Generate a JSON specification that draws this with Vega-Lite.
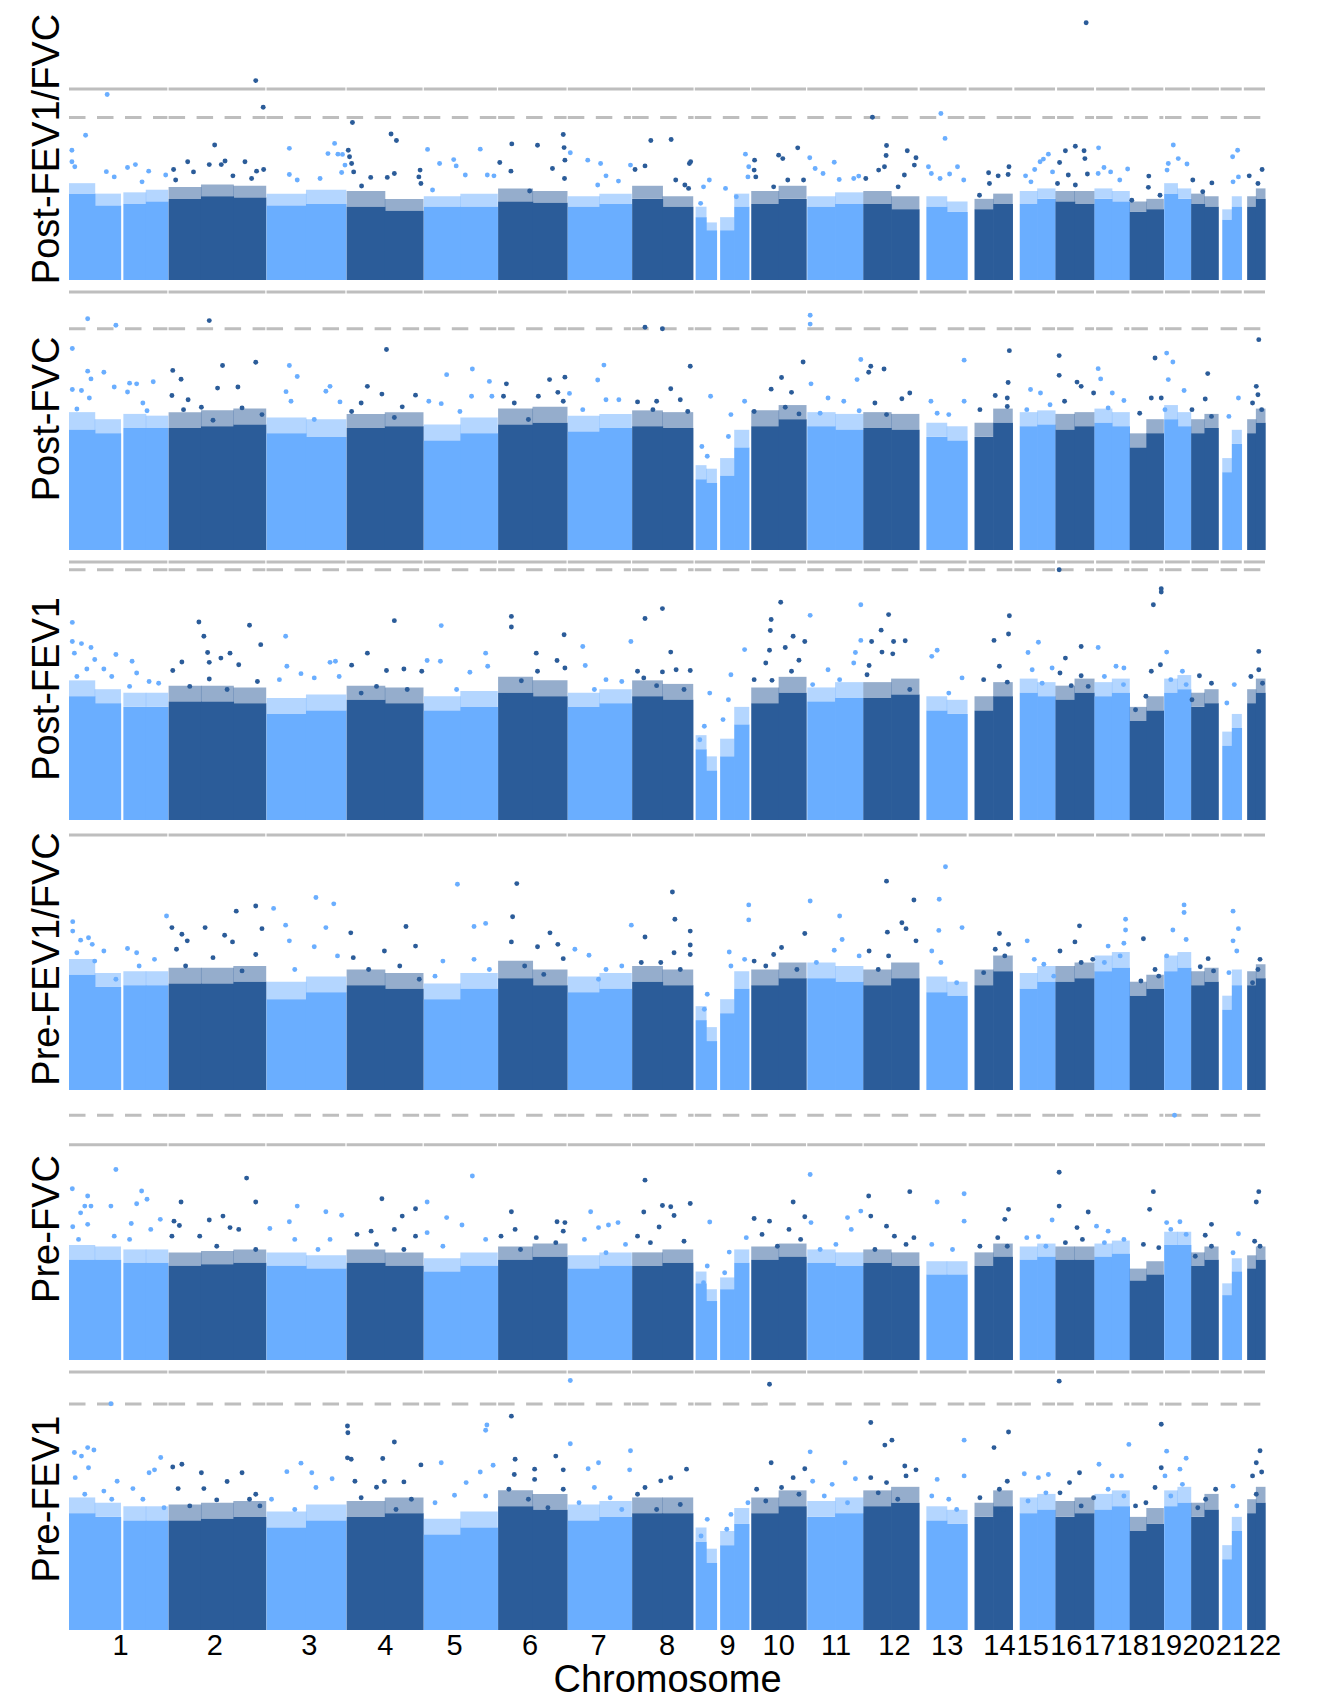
{
"$schema":"https://vega.github.io/schema/vega-lite/v6.json",
"background":"white",
"padding":{"left":27,"top":13,"right":10,"bottom":5},
"bounds":"flush",
"spacing":7,
"config":{"view":{"stroke":null},"font":"Liberation Sans",
"axisY":{"labels":false,"ticks":false,"domain":false,"grid":false,"titleFontSize":38,"titleFontWeight":"normal","titleColor":"#000000","titlePadding":3,"titleLimit":2000},
"axisX":{"grid":false,"domain":false,"ticks":false,"tickSize":0,"labelFontSize":29,"labelColor":"#000000","labelPadding":1,"labelOverlap":false,"labelFlush":false,"labelBound":false,"titleFontSize":38,"titleFontWeight":"normal","titleColor":"#000000","titlePadding":1}},
"datasets":{
"chrom":[{"c":1,"s":0,"e":237},{"c":2,"s":240,"e":473},{"c":3,"s":476,"e":666},{"c":4,"s":669,"e":852},{"c":5,"s":855,"e":1031},{"c":6,"s":1034,"e":1199},{"c":7,"s":1202,"e":1354},{"c":8,"s":1357,"e":1505},{"c":9,"s":1508,"e":1641},{"c":10,"s":1644,"e":1776},{"c":11,"s":1779,"e":1912},{"c":12,"s":1915,"e":2045},{"c":13,"s":2050,"e":2163},{"c":14,"s":2168,"e":2273},{"c":15,"s":2278,"e":2376},{"c":16,"s":2381,"e":2470},{"c":17,"s":2475,"e":2555},{"c":18,"s":2560,"e":2637},{"c":19,"s":2641,"e":2701},{"c":20,"s":2705,"e":2771},{"c":21,"s":2775,"e":2826},{"c":22,"s":2831,"e":2882}],
"body":[
{"p":1,"c":1,"s":0,"e":62,"h":3.3,"f":3.7},{"p":1,"c":1,"s":62,"e":124,"h":2.85,"f":3.3},{"p":1,"c":1,"s":131,"e":185,"h":2.9,"f":3.35},{"p":1,"c":1,"s":185,"e":238,"h":3.0,"f":3.45},{"p":1,"c":2,"s":240,"e":318,"h":3.1,"f":3.55},{"p":1,"c":2,"s":318,"e":396,"h":3.2,"f":3.65},{"p":1,"c":2,"s":396,"e":474,"h":3.15,"f":3.6},{"p":1,"c":3,"s":476,"e":571,"h":2.85,"f":3.3},{"p":1,"c":3,"s":571,"e":667,"h":2.9,"f":3.45},{"p":1,"c":4,"s":669,"e":761,"h":2.8,"f":3.4},{"p":1,"c":4,"s":761,"e":853,"h":2.65,"f":3.1},{"p":1,"c":5,"s":855,"e":943,"h":2.8,"f":3.2},{"p":1,"c":5,"s":943,"e":1032,"h":2.8,"f":3.3},{"p":1,"c":6,"s":1034,"e":1117,"h":3.0,"f":3.5},{"p":1,"c":6,"s":1117,"e":1200,"h":2.95,"f":3.4},{"p":1,"c":7,"s":1202,"e":1278,"h":2.8,"f":3.2},{"p":1,"c":7,"s":1278,"e":1355,"h":2.9,"f":3.3},{"p":1,"c":8,"s":1357,"e":1430,"h":3.1,"f":3.6},{"p":1,"c":8,"s":1430,"e":1503,"h":2.8,"f":3.2},{"p":1,"c":9,"s":1510,"e":1535,"h":2.4,"f":2.8},{"p":1,"c":9,"s":1535,"e":1560,"h":1.9,"f":2.2},{"p":1,"c":9,"s":1569,"e":1603,"h":1.9,"f":2.4},{"p":1,"c":9,"s":1603,"e":1638,"h":2.8,"f":3.3},{"p":1,"c":10,"s":1644,"e":1710,"h":2.9,"f":3.4},{"p":1,"c":10,"s":1710,"e":1776,"h":3.1,"f":3.6},{"p":1,"c":11,"s":1779,"e":1846,"h":2.8,"f":3.2},{"p":1,"c":11,"s":1846,"e":1913,"h":2.9,"f":3.35},{"p":1,"c":12,"s":1914,"e":1981,"h":2.9,"f":3.4},{"p":1,"c":12,"s":1981,"e":2048,"h":2.7,"f":3.2},{"p":1,"c":13,"s":2066,"e":2115,"h":2.8,"f":3.2},{"p":1,"c":13,"s":2115,"e":2164,"h":2.6,"f":3.0},{"p":1,"c":14,"s":2182,"e":2227,"h":2.7,"f":3.1},{"p":1,"c":14,"s":2227,"e":2273,"h":2.9,"f":3.3},{"p":1,"c":15,"s":2291,"e":2333,"h":2.9,"f":3.4},{"p":1,"c":15,"s":2333,"e":2376,"h":3.1,"f":3.5},{"p":1,"c":16,"s":2377,"e":2423,"h":3.0,"f":3.4},{"p":1,"c":16,"s":2423,"e":2470,"h":2.9,"f":3.4},{"p":1,"c":17,"s":2471,"e":2513,"h":3.1,"f":3.5},{"p":1,"c":17,"s":2513,"e":2555,"h":3.0,"f":3.4},{"p":1,"c":18,"s":2556,"e":2596,"h":2.6,"f":3.0},{"p":1,"c":18,"s":2596,"e":2637,"h":2.7,"f":3.1},{"p":1,"c":19,"s":2639,"e":2671,"h":3.3,"f":3.7},{"p":1,"c":19,"s":2671,"e":2703,"h":3.1,"f":3.5},{"p":1,"c":20,"s":2704,"e":2736,"h":2.9,"f":3.3},{"p":1,"c":20,"s":2736,"e":2769,"h":2.8,"f":3.2},{"p":1,"c":21,"s":2779,"e":2802,"h":2.3,"f":2.7},{"p":1,"c":21,"s":2802,"e":2825,"h":2.8,"f":3.2},{"p":1,"c":22,"s":2839,"e":2860,"h":2.8,"f":3.2},{"p":1,"c":22,"s":2860,"e":2882,"h":3.1,"f":3.5},
{"p":2,"c":1,"s":0,"e":62,"h":3.4,"f":3.9},{"p":2,"c":1,"s":62,"e":124,"h":3.3,"f":3.7},{"p":2,"c":1,"s":131,"e":185,"h":3.45,"f":3.85},{"p":2,"c":1,"s":185,"e":238,"h":3.45,"f":3.8},{"p":2,"c":2,"s":240,"e":318,"h":3.45,"f":3.9},{"p":2,"c":2,"s":318,"e":396,"h":3.5,"f":3.95},{"p":2,"c":2,"s":396,"e":474,"h":3.55,"f":4.0},{"p":2,"c":3,"s":476,"e":571,"h":3.3,"f":3.75},{"p":2,"c":3,"s":571,"e":667,"h":3.2,"f":3.7},{"p":2,"c":4,"s":669,"e":761,"h":3.45,"f":3.85},{"p":2,"c":4,"s":761,"e":853,"h":3.5,"f":3.9},{"p":2,"c":5,"s":855,"e":943,"h":3.1,"f":3.55},{"p":2,"c":5,"s":943,"e":1032,"h":3.3,"f":3.75},{"p":2,"c":6,"s":1034,"e":1117,"h":3.55,"f":4.0},{"p":2,"c":6,"s":1117,"e":1200,"h":3.6,"f":4.05},{"p":2,"c":7,"s":1202,"e":1278,"h":3.35,"f":3.8},{"p":2,"c":7,"s":1278,"e":1355,"h":3.45,"f":3.85},{"p":2,"c":8,"s":1357,"e":1430,"h":3.5,"f":3.95},{"p":2,"c":8,"s":1430,"e":1503,"h":3.45,"f":3.9},{"p":2,"c":9,"s":1510,"e":1535,"h":2.0,"f":2.4},{"p":2,"c":9,"s":1535,"e":1560,"h":1.9,"f":2.3},{"p":2,"c":9,"s":1569,"e":1603,"h":2.1,"f":2.6},{"p":2,"c":9,"s":1603,"e":1638,"h":2.9,"f":3.4},{"p":2,"c":10,"s":1644,"e":1710,"h":3.5,"f":3.95},{"p":2,"c":10,"s":1710,"e":1776,"h":3.7,"f":4.1},{"p":2,"c":11,"s":1779,"e":1846,"h":3.5,"f":3.9},{"p":2,"c":11,"s":1846,"e":1913,"h":3.4,"f":3.85},{"p":2,"c":12,"s":1914,"e":1981,"h":3.45,"f":3.9},{"p":2,"c":12,"s":1981,"e":2048,"h":3.4,"f":3.85},{"p":2,"c":13,"s":2066,"e":2115,"h":3.2,"f":3.6},{"p":2,"c":13,"s":2115,"e":2164,"h":3.1,"f":3.5},{"p":2,"c":14,"s":2182,"e":2227,"h":3.2,"f":3.6},{"p":2,"c":14,"s":2227,"e":2273,"h":3.6,"f":4.0},{"p":2,"c":15,"s":2291,"e":2333,"h":3.5,"f":3.9},{"p":2,"c":15,"s":2333,"e":2376,"h":3.55,"f":3.95},{"p":2,"c":16,"s":2377,"e":2423,"h":3.4,"f":3.85},{"p":2,"c":16,"s":2423,"e":2470,"h":3.5,"f":3.9},{"p":2,"c":17,"s":2471,"e":2513,"h":3.6,"f":4.0},{"p":2,"c":17,"s":2513,"e":2555,"h":3.5,"f":3.9},{"p":2,"c":18,"s":2556,"e":2596,"h":2.9,"f":3.3},{"p":2,"c":18,"s":2596,"e":2637,"h":3.3,"f":3.7},{"p":2,"c":19,"s":2639,"e":2671,"h":3.7,"f":4.1},{"p":2,"c":19,"s":2671,"e":2703,"h":3.5,"f":3.9},{"p":2,"c":20,"s":2704,"e":2736,"h":3.3,"f":3.7},{"p":2,"c":20,"s":2736,"e":2769,"h":3.45,"f":3.85},{"p":2,"c":21,"s":2779,"e":2802,"h":2.2,"f":2.6},{"p":2,"c":21,"s":2802,"e":2825,"h":3.0,"f":3.4},{"p":2,"c":22,"s":2839,"e":2860,"h":3.3,"f":3.7},{"p":2,"c":22,"s":2860,"e":2882,"h":3.6,"f":4.0},
{"p":3,"c":1,"s":0,"e":62,"h":3.5,"f":3.95},{"p":3,"c":1,"s":62,"e":124,"h":3.3,"f":3.7},{"p":3,"c":1,"s":131,"e":185,"h":3.2,"f":3.6},{"p":3,"c":1,"s":185,"e":238,"h":3.2,"f":3.6},{"p":3,"c":2,"s":240,"e":318,"h":3.35,"f":3.8},{"p":3,"c":2,"s":318,"e":396,"h":3.35,"f":3.8},{"p":3,"c":2,"s":396,"e":474,"h":3.3,"f":3.75},{"p":3,"c":3,"s":476,"e":571,"h":3.0,"f":3.45},{"p":3,"c":3,"s":571,"e":667,"h":3.1,"f":3.55},{"p":3,"c":4,"s":669,"e":761,"h":3.4,"f":3.8},{"p":3,"c":4,"s":761,"e":853,"h":3.3,"f":3.75},{"p":3,"c":5,"s":855,"e":943,"h":3.1,"f":3.5},{"p":3,"c":5,"s":943,"e":1032,"h":3.2,"f":3.65},{"p":3,"c":6,"s":1034,"e":1117,"h":3.6,"f":4.05},{"p":3,"c":6,"s":1117,"e":1200,"h":3.5,"f":3.95},{"p":3,"c":7,"s":1202,"e":1278,"h":3.2,"f":3.6},{"p":3,"c":7,"s":1278,"e":1355,"h":3.3,"f":3.7},{"p":3,"c":8,"s":1357,"e":1430,"h":3.5,"f":3.95},{"p":3,"c":8,"s":1430,"e":1503,"h":3.4,"f":3.85},{"p":3,"c":9,"s":1510,"e":1535,"h":2.0,"f":2.4},{"p":3,"c":9,"s":1535,"e":1560,"h":1.4,"f":1.8},{"p":3,"c":9,"s":1569,"e":1603,"h":1.8,"f":2.3},{"p":3,"c":9,"s":1603,"e":1638,"h":2.7,"f":3.2},{"p":3,"c":10,"s":1644,"e":1710,"h":3.3,"f":3.75},{"p":3,"c":10,"s":1710,"e":1776,"h":3.6,"f":4.05},{"p":3,"c":11,"s":1779,"e":1846,"h":3.35,"f":3.75},{"p":3,"c":11,"s":1846,"e":1913,"h":3.45,"f":3.9},{"p":3,"c":12,"s":1914,"e":1981,"h":3.45,"f":3.9},{"p":3,"c":12,"s":1981,"e":2048,"h":3.55,"f":4.0},{"p":3,"c":13,"s":2066,"e":2115,"h":3.1,"f":3.5},{"p":3,"c":13,"s":2115,"e":2164,"h":3.0,"f":3.4},{"p":3,"c":14,"s":2182,"e":2227,"h":3.1,"f":3.5},{"p":3,"c":14,"s":2227,"e":2273,"h":3.5,"f":3.9},{"p":3,"c":15,"s":2291,"e":2333,"h":3.6,"f":4.0},{"p":3,"c":15,"s":2333,"e":2376,"h":3.5,"f":3.9},{"p":3,"c":16,"s":2377,"e":2423,"h":3.4,"f":3.8},{"p":3,"c":16,"s":2423,"e":2470,"h":3.6,"f":4.0},{"p":3,"c":17,"s":2471,"e":2513,"h":3.5,"f":3.9},{"p":3,"c":17,"s":2513,"e":2555,"h":3.6,"f":4.0},{"p":3,"c":18,"s":2556,"e":2596,"h":2.8,"f":3.2},{"p":3,"c":18,"s":2596,"e":2637,"h":3.1,"f":3.5},{"p":3,"c":19,"s":2639,"e":2671,"h":3.6,"f":4.0},{"p":3,"c":19,"s":2671,"e":2703,"h":3.7,"f":4.1},{"p":3,"c":20,"s":2704,"e":2736,"h":3.2,"f":3.6},{"p":3,"c":20,"s":2736,"e":2769,"h":3.3,"f":3.7},{"p":3,"c":21,"s":2779,"e":2802,"h":2.1,"f":2.5},{"p":3,"c":21,"s":2802,"e":2825,"h":2.6,"f":3.0},{"p":3,"c":22,"s":2839,"e":2860,"h":3.3,"f":3.7},{"p":3,"c":22,"s":2860,"e":2882,"h":3.6,"f":4.0},
{"p":4,"c":1,"s":0,"e":62,"h":3.3,"f":3.75},{"p":4,"c":1,"s":62,"e":124,"h":2.95,"f":3.35},{"p":4,"c":1,"s":131,"e":185,"h":3.0,"f":3.4},{"p":4,"c":1,"s":185,"e":238,"h":3.0,"f":3.4},{"p":4,"c":2,"s":240,"e":318,"h":3.05,"f":3.5},{"p":4,"c":2,"s":318,"e":396,"h":3.05,"f":3.5},{"p":4,"c":2,"s":396,"e":474,"h":3.1,"f":3.55},{"p":4,"c":3,"s":476,"e":571,"h":2.6,"f":3.1},{"p":4,"c":3,"s":571,"e":667,"h":2.8,"f":3.25},{"p":4,"c":4,"s":669,"e":761,"h":3.0,"f":3.45},{"p":4,"c":4,"s":761,"e":853,"h":2.9,"f":3.35},{"p":4,"c":5,"s":855,"e":943,"h":2.6,"f":3.05},{"p":4,"c":5,"s":943,"e":1032,"h":2.9,"f":3.35},{"p":4,"c":6,"s":1034,"e":1117,"h":3.2,"f":3.7},{"p":4,"c":6,"s":1117,"e":1200,"h":3.0,"f":3.45},{"p":4,"c":7,"s":1202,"e":1278,"h":2.8,"f":3.25},{"p":4,"c":7,"s":1278,"e":1355,"h":2.9,"f":3.35},{"p":4,"c":8,"s":1357,"e":1430,"h":3.1,"f":3.55},{"p":4,"c":8,"s":1430,"e":1503,"h":3.0,"f":3.45},{"p":4,"c":9,"s":1510,"e":1535,"h":2.0,"f":2.4},{"p":4,"c":9,"s":1535,"e":1560,"h":1.4,"f":1.8},{"p":4,"c":9,"s":1569,"e":1603,"h":2.2,"f":2.6},{"p":4,"c":9,"s":1603,"e":1638,"h":2.9,"f":3.4},{"p":4,"c":10,"s":1644,"e":1710,"h":3.0,"f":3.45},{"p":4,"c":10,"s":1710,"e":1776,"h":3.2,"f":3.65},{"p":4,"c":11,"s":1779,"e":1846,"h":3.2,"f":3.65},{"p":4,"c":11,"s":1846,"e":1913,"h":3.1,"f":3.55},{"p":4,"c":12,"s":1914,"e":1981,"h":3.0,"f":3.45},{"p":4,"c":12,"s":1981,"e":2048,"h":3.2,"f":3.65},{"p":4,"c":13,"s":2066,"e":2115,"h":2.8,"f":3.25},{"p":4,"c":13,"s":2115,"e":2164,"h":2.7,"f":3.1},{"p":4,"c":14,"s":2182,"e":2227,"h":3.0,"f":3.45},{"p":4,"c":14,"s":2227,"e":2273,"h":3.4,"f":3.85},{"p":4,"c":15,"s":2291,"e":2333,"h":2.9,"f":3.35},{"p":4,"c":15,"s":2333,"e":2376,"h":3.1,"f":3.55},{"p":4,"c":16,"s":2377,"e":2423,"h":3.1,"f":3.55},{"p":4,"c":16,"s":2423,"e":2470,"h":3.2,"f":3.65},{"p":4,"c":17,"s":2471,"e":2513,"h":3.4,"f":3.85},{"p":4,"c":17,"s":2513,"e":2555,"h":3.5,"f":3.95},{"p":4,"c":18,"s":2556,"e":2596,"h":2.7,"f":3.1},{"p":4,"c":18,"s":2596,"e":2637,"h":2.9,"f":3.3},{"p":4,"c":19,"s":2639,"e":2671,"h":3.4,"f":3.85},{"p":4,"c":19,"s":2671,"e":2703,"h":3.5,"f":3.95},{"p":4,"c":20,"s":2704,"e":2736,"h":3.0,"f":3.4},{"p":4,"c":20,"s":2736,"e":2769,"h":3.1,"f":3.5},{"p":4,"c":21,"s":2779,"e":2802,"h":2.3,"f":2.7},{"p":4,"c":21,"s":2802,"e":2825,"h":3.0,"f":3.45},{"p":4,"c":22,"s":2839,"e":2860,"h":3.0,"f":3.4},{"p":4,"c":22,"s":2860,"e":2882,"h":3.2,"f":3.6},
{"p":5,"c":1,"s":0,"e":62,"h":3.4,"f":3.9},{"p":5,"c":1,"s":62,"e":124,"h":3.4,"f":3.85},{"p":5,"c":1,"s":131,"e":185,"h":3.3,"f":3.75},{"p":5,"c":1,"s":185,"e":238,"h":3.3,"f":3.75},{"p":5,"c":2,"s":240,"e":318,"h":3.2,"f":3.65},{"p":5,"c":2,"s":318,"e":396,"h":3.25,"f":3.7},{"p":5,"c":2,"s":396,"e":474,"h":3.3,"f":3.75},{"p":5,"c":3,"s":476,"e":571,"h":3.2,"f":3.65},{"p":5,"c":3,"s":571,"e":667,"h":3.1,"f":3.55},{"p":5,"c":4,"s":669,"e":761,"h":3.3,"f":3.75},{"p":5,"c":4,"s":761,"e":853,"h":3.2,"f":3.65},{"p":5,"c":5,"s":855,"e":943,"h":3.0,"f":3.45},{"p":5,"c":5,"s":943,"e":1032,"h":3.2,"f":3.65},{"p":5,"c":6,"s":1034,"e":1117,"h":3.4,"f":3.85},{"p":5,"c":6,"s":1117,"e":1200,"h":3.5,"f":3.95},{"p":5,"c":7,"s":1202,"e":1278,"h":3.1,"f":3.55},{"p":5,"c":7,"s":1278,"e":1355,"h":3.2,"f":3.65},{"p":5,"c":8,"s":1357,"e":1430,"h":3.2,"f":3.65},{"p":5,"c":8,"s":1430,"e":1503,"h":3.3,"f":3.75},{"p":5,"c":9,"s":1510,"e":1535,"h":2.6,"f":3.0},{"p":5,"c":9,"s":1535,"e":1560,"h":2.0,"f":2.4},{"p":5,"c":9,"s":1569,"e":1603,"h":2.4,"f":2.8},{"p":5,"c":9,"s":1603,"e":1638,"h":3.3,"f":3.75},{"p":5,"c":10,"s":1644,"e":1710,"h":3.4,"f":3.85},{"p":5,"c":10,"s":1710,"e":1776,"h":3.5,"f":3.95},{"p":5,"c":11,"s":1779,"e":1846,"h":3.3,"f":3.75},{"p":5,"c":11,"s":1846,"e":1913,"h":3.2,"f":3.65},{"p":5,"c":12,"s":1914,"e":1981,"h":3.3,"f":3.75},{"p":5,"c":12,"s":1981,"e":2048,"h":3.2,"f":3.65},{"p":5,"c":13,"s":2066,"e":2115,"h":2.9,"f":3.35},{"p":5,"c":13,"s":2115,"e":2164,"h":2.9,"f":3.35},{"p":5,"c":14,"s":2182,"e":2227,"h":3.2,"f":3.65},{"p":5,"c":14,"s":2227,"e":2273,"h":3.5,"f":3.95},{"p":5,"c":15,"s":2291,"e":2333,"h":3.4,"f":3.85},{"p":5,"c":15,"s":2333,"e":2376,"h":3.5,"f":3.95},{"p":5,"c":16,"s":2377,"e":2423,"h":3.4,"f":3.85},{"p":5,"c":16,"s":2423,"e":2470,"h":3.4,"f":3.85},{"p":5,"c":17,"s":2471,"e":2513,"h":3.5,"f":3.95},{"p":5,"c":17,"s":2513,"e":2555,"h":3.6,"f":4.05},{"p":5,"c":18,"s":2556,"e":2596,"h":2.7,"f":3.1},{"p":5,"c":18,"s":2596,"e":2637,"h":2.9,"f":3.35},{"p":5,"c":19,"s":2639,"e":2671,"h":3.9,"f":4.35},{"p":5,"c":19,"s":2671,"e":2703,"h":3.9,"f":4.35},{"p":5,"c":20,"s":2704,"e":2736,"h":3.2,"f":3.65},{"p":5,"c":20,"s":2736,"e":2769,"h":3.4,"f":3.85},{"p":5,"c":21,"s":2779,"e":2802,"h":2.2,"f":2.6},{"p":5,"c":21,"s":2802,"e":2825,"h":3.0,"f":3.45},{"p":5,"c":22,"s":2839,"e":2860,"h":3.1,"f":3.55},{"p":5,"c":22,"s":2860,"e":2882,"h":3.4,"f":3.85},
{"p":6,"c":1,"s":0,"e":62,"h":3.3,"f":3.75},{"p":6,"c":1,"s":62,"e":124,"h":3.2,"f":3.6},{"p":6,"c":1,"s":131,"e":185,"h":3.1,"f":3.5},{"p":6,"c":1,"s":185,"e":238,"h":3.1,"f":3.5},{"p":6,"c":2,"s":240,"e":318,"h":3.1,"f":3.55},{"p":6,"c":2,"s":318,"e":396,"h":3.15,"f":3.6},{"p":6,"c":2,"s":396,"e":474,"h":3.2,"f":3.65},{"p":6,"c":3,"s":476,"e":571,"h":2.9,"f":3.35},{"p":6,"c":3,"s":571,"e":667,"h":3.1,"f":3.55},{"p":6,"c":4,"s":669,"e":761,"h":3.2,"f":3.65},{"p":6,"c":4,"s":761,"e":853,"h":3.3,"f":3.75},{"p":6,"c":5,"s":855,"e":943,"h":2.7,"f":3.15},{"p":6,"c":5,"s":943,"e":1032,"h":2.9,"f":3.35},{"p":6,"c":6,"s":1034,"e":1117,"h":3.5,"f":3.95},{"p":6,"c":6,"s":1117,"e":1200,"h":3.4,"f":3.85},{"p":6,"c":7,"s":1202,"e":1278,"h":3.1,"f":3.55},{"p":6,"c":7,"s":1278,"e":1355,"h":3.2,"f":3.65},{"p":6,"c":8,"s":1357,"e":1430,"h":3.3,"f":3.75},{"p":6,"c":8,"s":1430,"e":1503,"h":3.3,"f":3.75},{"p":6,"c":9,"s":1510,"e":1535,"h":2.5,"f":2.9},{"p":6,"c":9,"s":1535,"e":1560,"h":1.9,"f":2.3},{"p":6,"c":9,"s":1569,"e":1603,"h":2.4,"f":2.8},{"p":6,"c":9,"s":1603,"e":1638,"h":3.0,"f":3.45},{"p":6,"c":10,"s":1644,"e":1710,"h":3.3,"f":3.75},{"p":6,"c":10,"s":1710,"e":1776,"h":3.5,"f":3.95},{"p":6,"c":11,"s":1779,"e":1846,"h":3.2,"f":3.65},{"p":6,"c":11,"s":1846,"e":1913,"h":3.3,"f":3.75},{"p":6,"c":12,"s":1914,"e":1981,"h":3.5,"f":3.95},{"p":6,"c":12,"s":1981,"e":2048,"h":3.6,"f":4.05},{"p":6,"c":13,"s":2066,"e":2115,"h":3.1,"f":3.5},{"p":6,"c":13,"s":2115,"e":2164,"h":3.0,"f":3.4},{"p":6,"c":14,"s":2182,"e":2227,"h":3.2,"f":3.6},{"p":6,"c":14,"s":2227,"e":2273,"h":3.5,"f":3.95},{"p":6,"c":15,"s":2291,"e":2333,"h":3.3,"f":3.75},{"p":6,"c":15,"s":2333,"e":2376,"h":3.4,"f":3.85},{"p":6,"c":16,"s":2377,"e":2423,"h":3.2,"f":3.65},{"p":6,"c":16,"s":2423,"e":2470,"h":3.3,"f":3.75},{"p":6,"c":17,"s":2471,"e":2513,"h":3.4,"f":3.85},{"p":6,"c":17,"s":2513,"e":2555,"h":3.5,"f":3.95},{"p":6,"c":18,"s":2556,"e":2596,"h":2.8,"f":3.2},{"p":6,"c":18,"s":2596,"e":2637,"h":3.0,"f":3.45},{"p":6,"c":19,"s":2639,"e":2671,"h":3.5,"f":3.95},{"p":6,"c":19,"s":2671,"e":2703,"h":3.6,"f":4.05},{"p":6,"c":20,"s":2704,"e":2736,"h":3.2,"f":3.6},{"p":6,"c":20,"s":2736,"e":2769,"h":3.4,"f":3.85},{"p":6,"c":21,"s":2779,"e":2802,"h":2.0,"f":2.4},{"p":6,"c":21,"s":2802,"e":2825,"h":2.8,"f":3.2},{"p":6,"c":22,"s":2839,"e":2860,"h":3.3,"f":3.7},{"p":6,"c":22,"s":2860,"e":2882,"h":3.6,"f":4.05}
],
"pts":[
{"p":1,"c":1,"x":92,"y":7.09},{"p":1,"c":1,"x":40,"y":5.53},{"p":1,"c":1,"x":7,"y":4.96},{"p":1,"c":1,"x":7,"y":4.52},{"p":1,"c":1,"x":14,"y":4.33},{"p":1,"c":1,"x":90,"y":4.14},{"p":1,"c":1,"x":109,"y":3.94},{"p":1,"c":1,"x":141,"y":4.3},{"p":1,"c":1,"x":160,"y":4.41},{"p":1,"c":1,"x":192,"y":4.16},{"p":1,"c":1,"x":233,"y":4.01},{"p":1,"c":1,"x":176,"y":3.75},
{"p":1,"c":2,"x":450,"y":7.62},{"p":1,"c":2,"x":468,"y":6.6},{"p":1,"c":2,"x":351,"y":5.16},{"p":1,"c":2,"x":286,"y":4.52},{"p":1,"c":2,"x":338,"y":4.41},{"p":1,"c":2,"x":367,"y":4.41},{"p":1,"c":2,"x":376,"y":4.55},{"p":1,"c":2,"x":424,"y":4.52},{"p":1,"c":2,"x":395,"y":3.98},{"p":1,"c":2,"x":252,"y":4.22},{"p":1,"c":2,"x":300,"y":4.13},{"p":1,"c":2,"x":452,"y":4.16},{"p":1,"c":2,"x":469,"y":4.22},{"p":1,"c":2,"x":257,"y":3.82},{"p":1,"c":2,"x":440,"y":3.88},
{"p":1,"c":3,"x":531,"y":5.03},{"p":1,"c":3,"x":640,"y":5.22},{"p":1,"c":3,"x":624,"y":4.83},{"p":1,"c":3,"x":648,"y":4.81},{"p":1,"c":3,"x":659,"y":4.8},{"p":1,"c":3,"x":665,"y":4.39},{"p":1,"c":3,"x":531,"y":4.03},{"p":1,"c":3,"x":550,"y":3.82},{"p":1,"c":3,"x":605,"y":3.88},{"p":1,"c":3,"x":657,"y":4.11},
{"p":1,"c":4,"x":683,"y":6.02},{"p":1,"c":4,"x":776,"y":5.58},{"p":1,"c":4,"x":789,"y":5.33},{"p":1,"c":4,"x":673,"y":4.96},{"p":1,"c":4,"x":676,"y":4.71},{"p":1,"c":4,"x":681,"y":4.45},{"p":1,"c":4,"x":686,"y":4.13},{"p":1,"c":4,"x":727,"y":3.92},{"p":1,"c":4,"x":767,"y":3.92},{"p":1,"c":4,"x":784,"y":4.07},{"p":1,"c":4,"x":846,"y":4.2},{"p":1,"c":4,"x":843,"y":3.94},{"p":1,"c":4,"x":848,"y":3.69},{"p":1,"c":4,"x":705,"y":3.59},
{"p":1,"c":5,"x":864,"y":4.99},{"p":1,"c":5,"x":991,"y":5.0},{"p":1,"c":5,"x":893,"y":4.45},{"p":1,"c":5,"x":927,"y":4.6},{"p":1,"c":5,"x":933,"y":4.36},{"p":1,"c":5,"x":955,"y":4.01},{"p":1,"c":5,"x":1008,"y":4.01},{"p":1,"c":5,"x":1024,"y":3.98},{"p":1,"c":5,"x":876,"y":3.44},
{"p":1,"c":6,"x":1067,"y":5.2},{"p":1,"c":6,"x":1129,"y":5.15},{"p":1,"c":6,"x":1191,"y":5.56},{"p":1,"c":6,"x":1193,"y":5.06},{"p":1,"c":6,"x":1195,"y":4.58},{"p":1,"c":6,"x":1038,"y":4.49},{"p":1,"c":6,"x":1065,"y":4.16},{"p":1,"c":6,"x":1165,"y":4.26},{"p":1,"c":6,"x":1194,"y":3.88},{"p":1,"c":6,"x":1110,"y":3.4},
{"p":1,"c":7,"x":1208,"y":4.86},{"p":1,"c":7,"x":1250,"y":4.58},{"p":1,"c":7,"x":1281,"y":4.45},{"p":1,"c":7,"x":1294,"y":3.98},{"p":1,"c":7,"x":1353,"y":4.39},{"p":1,"c":7,"x":1324,"y":3.78},{"p":1,"c":7,"x":1274,"y":3.63},
{"p":1,"c":8,"x":1402,"y":5.33},{"p":1,"c":8,"x":1451,"y":5.37},{"p":1,"c":8,"x":1388,"y":4.36},{"p":1,"c":8,"x":1364,"y":4.22},{"p":1,"c":8,"x":1462,"y":3.82},{"p":1,"c":8,"x":1495,"y":4.45},{"p":1,"c":8,"x":1498,"y":4.52},{"p":1,"c":8,"x":1484,"y":3.63},{"p":1,"c":8,"x":1493,"y":3.5},
{"p":1,"c":9,"x":1543,"y":3.82},{"p":1,"c":9,"x":1529,"y":3.56},{"p":1,"c":9,"x":1522,"y":2.93},{"p":1,"c":9,"x":1630,"y":4.81},{"p":1,"c":9,"x":1638,"y":4.33},{"p":1,"c":9,"x":1636,"y":3.94},{"p":1,"c":9,"x":1582,"y":3.5},{"p":1,"c":9,"x":1608,"y":3.18},
{"p":1,"c":10,"x":1652,"y":4.58},{"p":1,"c":10,"x":1651,"y":4.2},{"p":1,"c":10,"x":1655,"y":3.94},{"p":1,"c":10,"x":1710,"y":4.77},{"p":1,"c":10,"x":1720,"y":4.64},{"p":1,"c":10,"x":1756,"y":5.05},{"p":1,"c":10,"x":1732,"y":3.82},{"p":1,"c":10,"x":1698,"y":3.56},{"p":1,"c":10,"x":1770,"y":3.82},
{"p":1,"c":11,"x":1785,"y":4.67},{"p":1,"c":11,"x":1844,"y":4.5},{"p":1,"c":11,"x":1817,"y":4.07},{"p":1,"c":11,"x":1798,"y":4.26},{"p":1,"c":11,"x":1856,"y":3.84},{"p":1,"c":11,"x":1891,"y":3.88},{"p":1,"c":11,"x":1903,"y":3.97},
{"p":1,"c":12,"x":1936,"y":6.22},{"p":1,"c":12,"x":1970,"y":5.14},{"p":1,"c":12,"x":1969,"y":4.76},{"p":1,"c":12,"x":2020,"y":4.94},{"p":1,"c":12,"x":2041,"y":4.67},{"p":1,"c":12,"x":2037,"y":4.39},{"p":1,"c":12,"x":2013,"y":4.01},{"p":1,"c":12,"x":1951,"y":4.2},{"p":1,"c":12,"x":1920,"y":3.88},{"p":1,"c":12,"x":1965,"y":4.33},{"p":1,"c":12,"x":1998,"y":3.56},
{"p":1,"c":13,"x":2101,"y":6.36},{"p":1,"c":13,"x":2111,"y":5.41},{"p":1,"c":13,"x":2071,"y":4.33},{"p":1,"c":13,"x":2078,"y":4.07},{"p":1,"c":13,"x":2141,"y":4.33},{"p":1,"c":13,"x":2122,"y":4.05},{"p":1,"c":13,"x":2099,"y":3.88},{"p":1,"c":13,"x":2156,"y":3.82},
{"p":1,"c":14,"x":2265,"y":4.33},{"p":1,"c":14,"x":2239,"y":3.98},{"p":1,"c":14,"x":2216,"y":4.1},{"p":1,"c":14,"x":2263,"y":4.03},{"p":1,"c":14,"x":2218,"y":3.69},{"p":1,"c":14,"x":2194,"y":3.24},
{"p":1,"c":15,"x":2360,"y":4.81},{"p":1,"c":15,"x":2348,"y":4.62},{"p":1,"c":15,"x":2340,"y":4.52},{"p":1,"c":15,"x":2327,"y":4.22},{"p":1,"c":15,"x":2305,"y":3.98},{"p":1,"c":15,"x":2318,"y":3.75},{"p":1,"c":15,"x":2370,"y":4.13},
{"p":1,"c":16,"x":2451,"y":9.83},{"p":1,"c":16,"x":2425,"y":5.11},{"p":1,"c":16,"x":2401,"y":4.94},{"p":1,"c":16,"x":2446,"y":4.94},{"p":1,"c":16,"x":2448,"y":4.64},{"p":1,"c":16,"x":2387,"y":4.49},{"p":1,"c":16,"x":2408,"y":4.01},{"p":1,"c":16,"x":2454,"y":4.05},{"p":1,"c":16,"x":2425,"y":3.63},{"p":1,"c":16,"x":2382,"y":3.69},
{"p":1,"c":17,"x":2481,"y":5.05},{"p":1,"c":17,"x":2494,"y":4.3},{"p":1,"c":17,"x":2551,"y":4.24},{"p":1,"c":17,"x":2510,"y":4.13},{"p":1,"c":17,"x":2532,"y":3.82},{"p":1,"c":17,"x":2480,"y":4.07},
{"p":1,"c":18,"x":2602,"y":3.97},{"p":1,"c":18,"x":2601,"y":3.54},{"p":1,"c":18,"x":2561,"y":3.05},{"p":1,"c":18,"x":2629,"y":3.24},
{"p":1,"c":19,"x":2661,"y":5.16},{"p":1,"c":19,"x":2673,"y":4.64},{"p":1,"c":19,"x":2649,"y":4.45},{"p":1,"c":19,"x":2694,"y":4.43},{"p":1,"c":19,"x":2646,"y":4.2},
{"p":1,"c":20,"x":2708,"y":3.82},{"p":1,"c":20,"x":2754,"y":3.71},{"p":1,"c":20,"x":2732,"y":3.37},
{"p":1,"c":21,"x":2816,"y":4.96},{"p":1,"c":21,"x":2804,"y":4.71},{"p":1,"c":21,"x":2818,"y":3.94},{"p":1,"c":21,"x":2805,"y":3.75},
{"p":1,"c":22,"x":2875,"y":4.22},{"p":1,"c":22,"x":2844,"y":3.98},{"p":1,"c":22,"x":2865,"y":3.69},
{"p":2,"c":1,"x":45,"y":6.54},{"p":2,"c":1,"x":113,"y":6.36},{"p":2,"c":1,"x":8,"y":5.7},{"p":2,"c":1,"x":45,"y":5.06},{"p":2,"c":1,"x":84,"y":5.03},{"p":2,"c":1,"x":53,"y":4.84},{"p":2,"c":1,"x":8,"y":4.54},{"p":2,"c":1,"x":30,"y":4.51},{"p":2,"c":1,"x":109,"y":4.61},{"p":2,"c":1,"x":49,"y":4.3},{"p":2,"c":1,"x":19,"y":3.99},{"p":2,"c":1,"x":146,"y":4.72},{"p":2,"c":1,"x":163,"y":4.7},{"p":2,"c":1,"x":203,"y":4.76},{"p":2,"c":1,"x":141,"y":4.47},{"p":2,"c":1,"x":178,"y":4.16},{"p":2,"c":1,"x":188,"y":3.94},
{"p":2,"c":2,"x":338,"y":6.49},{"p":2,"c":2,"x":450,"y":5.31},{"p":2,"c":2,"x":370,"y":5.22},{"p":2,"c":2,"x":250,"y":5.08},{"p":2,"c":2,"x":270,"y":4.83},{"p":2,"c":2,"x":407,"y":4.61},{"p":2,"c":2,"x":358,"y":4.58},{"p":2,"c":2,"x":248,"y":4.37},{"p":2,"c":2,"x":287,"y":4.25},{"p":2,"c":2,"x":319,"y":4.04},{"p":2,"c":2,"x":417,"y":4.02},{"p":2,"c":2,"x":465,"y":3.83},{"p":2,"c":2,"x":347,"y":3.67},{"p":2,"c":2,"x":276,"y":3.97},
{"p":2,"c":3,"x":531,"y":5.22},{"p":2,"c":3,"x":550,"y":4.91},{"p":2,"c":3,"x":523,"y":4.48},{"p":2,"c":3,"x":535,"y":4.21},{"p":2,"c":3,"x":629,"y":4.63},{"p":2,"c":3,"x":619,"y":4.49},{"p":2,"c":3,"x":653,"y":4.19},{"p":2,"c":3,"x":591,"y":3.69},
{"p":2,"c":4,"x":765,"y":5.67},{"p":2,"c":4,"x":719,"y":4.63},{"p":2,"c":4,"x":754,"y":4.41},{"p":2,"c":4,"x":835,"y":4.38},{"p":2,"c":4,"x":803,"y":4.05},{"p":2,"c":4,"x":681,"y":3.92},{"p":2,"c":4,"x":704,"y":4.16},{"p":2,"c":4,"x":784,"y":3.75},
{"p":2,"c":5,"x":972,"y":5.12},{"p":2,"c":5,"x":910,"y":4.96},{"p":2,"c":5,"x":1013,"y":4.77},{"p":2,"c":5,"x":970,"y":4.35},{"p":2,"c":5,"x":897,"y":4.14},{"p":2,"c":5,"x":867,"y":4.21},{"p":2,"c":5,"x":1019,"y":4.35},{"p":2,"c":5,"x":942,"y":3.92},
{"p":2,"c":6,"x":1195,"y":4.89},{"p":2,"c":6,"x":1158,"y":4.82},{"p":2,"c":6,"x":1054,"y":4.7},{"p":2,"c":6,"x":1047,"y":4.35},{"p":2,"c":6,"x":1073,"y":4.16},{"p":2,"c":6,"x":1131,"y":4.35},{"p":2,"c":6,"x":1178,"y":4.46},{"p":2,"c":6,"x":1191,"y":4.21},{"p":2,"c":6,"x":1107,"y":3.69},
{"p":2,"c":7,"x":1289,"y":5.23},{"p":2,"c":7,"x":1274,"y":4.81},{"p":2,"c":7,"x":1206,"y":4.43},{"p":2,"c":7,"x":1294,"y":4.25},{"p":2,"c":7,"x":1325,"y":4.25},{"p":2,"c":7,"x":1238,"y":3.97},
{"p":2,"c":8,"x":1388,"y":6.3},{"p":2,"c":8,"x":1430,"y":6.26},{"p":2,"c":8,"x":1497,"y":5.2},{"p":2,"c":8,"x":1450,"y":4.56},{"p":2,"c":8,"x":1370,"y":4.19},{"p":2,"c":8,"x":1416,"y":4.21},{"p":2,"c":8,"x":1473,"y":4.25},{"p":2,"c":8,"x":1407,"y":3.97},{"p":2,"c":8,"x":1491,"y":3.92},
{"p":2,"c":9,"x":1546,"y":4.35},{"p":2,"c":9,"x":1525,"y":2.93},{"p":2,"c":9,"x":1538,"y":2.65},{"p":2,"c":9,"x":1595,"y":3.83},{"p":2,"c":9,"x":1628,"y":4.21},{"p":2,"c":9,"x":1589,"y":3.21},
{"p":2,"c":10,"x":1769,"y":5.32},{"p":2,"c":10,"x":1717,"y":4.88},{"p":2,"c":10,"x":1692,"y":4.55},{"p":2,"c":10,"x":1741,"y":4.46},{"p":2,"c":10,"x":1651,"y":3.92},{"p":2,"c":10,"x":1726,"y":4.04},{"p":2,"c":10,"x":1759,"y":3.85},
{"p":2,"c":11,"x":1786,"y":6.64},{"p":2,"c":11,"x":1786,"y":6.39},{"p":2,"c":11,"x":1788,"y":4.7},{"p":2,"c":11,"x":1908,"y":5.39},{"p":2,"c":11,"x":1899,"y":4.82},{"p":2,"c":11,"x":1829,"y":4.3},{"p":2,"c":11,"x":1867,"y":4.21},{"p":2,"c":11,"x":1904,"y":3.94},{"p":2,"c":11,"x":1810,"y":3.87},
{"p":2,"c":12,"x":1927,"y":5.03},{"p":2,"c":12,"x":1964,"y":5.12},{"p":2,"c":12,"x":1932,"y":5.2},{"p":2,"c":12,"x":2026,"y":4.44},{"p":2,"c":12,"x":2007,"y":4.28},{"p":2,"c":12,"x":1970,"y":3.83},{"p":2,"c":12,"x":1942,"y":4.16},
{"p":2,"c":13,"x":2157,"y":5.37},{"p":2,"c":13,"x":2077,"y":4.21},{"p":2,"c":13,"x":2157,"y":4.21},{"p":2,"c":13,"x":2092,"y":3.87},{"p":2,"c":13,"x":2120,"y":3.83},
{"p":2,"c":14,"x":2266,"y":5.64},{"p":2,"c":14,"x":2263,"y":4.74},{"p":2,"c":14,"x":2232,"y":4.37},{"p":2,"c":14,"x":2261,"y":4.3},{"p":2,"c":14,"x":2195,"y":3.97},{"p":2,"c":14,"x":2261,"y":4.06},
{"p":2,"c":15,"x":2317,"y":4.54},{"p":2,"c":15,"x":2341,"y":4.44},{"p":2,"c":15,"x":2364,"y":4.11},{"p":2,"c":15,"x":2308,"y":3.97},
{"p":2,"c":16,"x":2386,"y":5.5},{"p":2,"c":16,"x":2386,"y":4.94},{"p":2,"c":16,"x":2429,"y":4.75},{"p":2,"c":16,"x":2439,"y":4.63},{"p":2,"c":16,"x":2399,"y":4.21},{"p":2,"c":16,"x":2469,"y":4.44},
{"p":2,"c":17,"x":2480,"y":5.13},{"p":2,"c":17,"x":2486,"y":4.84},{"p":2,"c":17,"x":2514,"y":4.44},{"p":2,"c":17,"x":2542,"y":4.23},{"p":2,"c":17,"x":2504,"y":4.02},
{"p":2,"c":18,"x":2617,"y":5.43},{"p":2,"c":18,"x":2608,"y":4.3},{"p":2,"c":18,"x":2632,"y":4.3},{"p":2,"c":18,"x":2580,"y":3.87},
{"p":2,"c":19,"x":2645,"y":5.57},{"p":2,"c":19,"x":2660,"y":5.32},{"p":2,"c":19,"x":2649,"y":4.82},{"p":2,"c":19,"x":2687,"y":4.51},{"p":2,"c":19,"x":2641,"y":3.97},
{"p":2,"c":20,"x":2744,"y":4.99},{"p":2,"c":20,"x":2738,"y":4.27},{"p":2,"c":20,"x":2706,"y":3.97},{"p":2,"c":20,"x":2753,"y":3.78},
{"p":2,"c":21,"x":2818,"y":4.3},{"p":2,"c":21,"x":2795,"y":3.78},
{"p":2,"c":22,"x":2867,"y":5.95},{"p":2,"c":22,"x":2861,"y":4.63},{"p":2,"c":22,"x":2865,"y":4.39},{"p":2,"c":22,"x":2874,"y":3.97},{"p":2,"c":22,"x":2852,"y":4.16},
{"p":3,"c":1,"x":8,"y":5.59},{"p":3,"c":1,"x":8,"y":5.05},{"p":3,"c":1,"x":30,"y":4.99},{"p":3,"c":1,"x":13,"y":4.72},{"p":3,"c":1,"x":53,"y":4.88},{"p":3,"c":1,"x":62,"y":4.54},{"p":3,"c":1,"x":113,"y":4.68},{"p":3,"c":1,"x":43,"y":4.27},{"p":3,"c":1,"x":84,"y":4.27},{"p":3,"c":1,"x":19,"y":4.06},{"p":3,"c":1,"x":103,"y":4.06},{"p":3,"c":1,"x":152,"y":4.49},{"p":3,"c":1,"x":163,"y":4.16},{"p":3,"c":1,"x":193,"y":3.92},{"p":3,"c":1,"x":216,"y":3.87},{"p":3,"c":1,"x":146,"y":3.78},
{"p":3,"c":2,"x":313,"y":5.6},{"p":3,"c":2,"x":435,"y":5.51},{"p":3,"c":2,"x":325,"y":5.2},{"p":3,"c":2,"x":462,"y":4.96},{"p":3,"c":2,"x":334,"y":4.74},{"p":3,"c":2,"x":388,"y":4.72},{"p":3,"c":2,"x":366,"y":4.58},{"p":3,"c":2,"x":272,"y":4.47},{"p":3,"c":2,"x":409,"y":4.39},{"p":3,"c":2,"x":338,"y":4.46},{"p":3,"c":2,"x":250,"y":4.23},{"p":3,"c":2,"x":338,"y":3.99},{"p":3,"c":2,"x":454,"y":3.92},{"p":3,"c":2,"x":291,"y":3.78},{"p":3,"c":2,"x":381,"y":3.69},
{"p":3,"c":3,"x":522,"y":5.2},{"p":3,"c":3,"x":525,"y":4.35},{"p":3,"c":3,"x":642,"y":4.49},{"p":3,"c":3,"x":629,"y":4.46},{"p":3,"c":3,"x":559,"y":4.14},{"p":3,"c":3,"x":591,"y":4.02},{"p":3,"c":3,"x":507,"y":3.97},{"p":3,"c":3,"x":651,"y":4.06},
{"p":3,"c":4,"x":784,"y":5.64},{"p":3,"c":4,"x":719,"y":4.72},{"p":3,"c":4,"x":681,"y":4.38},{"p":3,"c":4,"x":765,"y":4.23},{"p":3,"c":4,"x":807,"y":4.27},{"p":3,"c":4,"x":850,"y":4.21},{"p":3,"c":4,"x":815,"y":3.69},{"p":3,"c":4,"x":741,"y":3.78},{"p":3,"c":4,"x":704,"y":3.59},
{"p":3,"c":5,"x":897,"y":5.5},{"p":3,"c":5,"x":863,"y":4.51},{"p":3,"c":5,"x":895,"y":4.49},{"p":3,"c":5,"x":1004,"y":4.72},{"p":3,"c":5,"x":1009,"y":4.35},{"p":3,"c":5,"x":966,"y":4.18},{"p":3,"c":5,"x":934,"y":3.69},
{"p":3,"c":6,"x":1066,"y":5.76},{"p":3,"c":6,"x":1066,"y":5.46},{"p":3,"c":6,"x":1193,"y":5.24},{"p":3,"c":6,"x":1126,"y":4.72},{"p":3,"c":6,"x":1176,"y":4.51},{"p":3,"c":6,"x":1195,"y":4.3},{"p":3,"c":6,"x":1129,"y":4.21},{"p":3,"c":6,"x":1090,"y":3.94},{"p":3,"c":6,"x":1050,"y":3.5},
{"p":3,"c":7,"x":1238,"y":4.91},{"p":3,"c":7,"x":1354,"y":5.05},{"p":3,"c":7,"x":1244,"y":4.37},{"p":3,"c":7,"x":1294,"y":3.97},{"p":3,"c":7,"x":1332,"y":3.92},{"p":3,"c":7,"x":1266,"y":3.69},
{"p":3,"c":8,"x":1430,"y":5.98},{"p":3,"c":8,"x":1388,"y":5.7},{"p":3,"c":8,"x":1450,"y":4.75},{"p":3,"c":8,"x":1370,"y":4.21},{"p":3,"c":8,"x":1430,"y":4.19},{"p":3,"c":8,"x":1463,"y":4.25},{"p":3,"c":8,"x":1497,"y":4.23},{"p":3,"c":8,"x":1385,"y":4.02},{"p":3,"c":8,"x":1416,"y":3.8},{"p":3,"c":8,"x":1482,"y":3.69},
{"p":3,"c":9,"x":1544,"y":3.59},{"p":3,"c":9,"x":1531,"y":2.65},{"p":3,"c":9,"x":1520,"y":2.27},{"p":3,"c":9,"x":1595,"y":4.11},{"p":3,"c":9,"x":1628,"y":4.82},{"p":3,"c":9,"x":1589,"y":3.4},{"p":3,"c":9,"x":1576,"y":2.84},
{"p":3,"c":10,"x":1715,"y":6.16},{"p":3,"c":10,"x":1692,"y":5.67},{"p":3,"c":10,"x":1690,"y":5.36},{"p":3,"c":10,"x":1745,"y":5.2},{"p":3,"c":10,"x":1773,"y":5.05},{"p":3,"c":10,"x":1726,"y":4.88},{"p":3,"c":10,"x":1688,"y":4.8},{"p":3,"c":10,"x":1759,"y":4.52},{"p":3,"c":10,"x":1679,"y":4.44},{"p":3,"c":10,"x":1741,"y":4.21},{"p":3,"c":10,"x":1651,"y":3.97},{"p":3,"c":10,"x":1694,"y":3.95},
{"p":3,"c":11,"x":1786,"y":5.79},{"p":3,"c":11,"x":1908,"y":6.09},{"p":3,"c":11,"x":1908,"y":5.08},{"p":3,"c":11,"x":1895,"y":4.74},{"p":3,"c":11,"x":1891,"y":4.44},{"p":3,"c":11,"x":1829,"y":4.25},{"p":3,"c":11,"x":1857,"y":3.97},{"p":3,"c":11,"x":1792,"y":3.83},
{"p":3,"c":12,"x":1975,"y":5.81},{"p":3,"c":12,"x":1957,"y":5.37},{"p":3,"c":12,"x":1934,"y":5.05},{"p":3,"c":12,"x":1987,"y":5.05},{"p":3,"c":12,"x":2015,"y":5.07},{"p":3,"c":12,"x":1959,"y":4.75},{"p":3,"c":12,"x":1985,"y":4.7},{"p":3,"c":12,"x":1928,"y":4.37},{"p":3,"c":12,"x":1923,"y":4.11},{"p":3,"c":12,"x":2026,"y":3.69},
{"p":3,"c":13,"x":2092,"y":4.8},{"p":3,"c":13,"x":2079,"y":4.63},{"p":3,"c":13,"x":2152,"y":4.02},{"p":3,"c":13,"x":2120,"y":3.59},
{"p":3,"c":14,"x":2266,"y":5.78},{"p":3,"c":14,"x":2264,"y":5.26},{"p":3,"c":14,"x":2229,"y":5.08},{"p":3,"c":14,"x":2242,"y":4.35},{"p":3,"c":14,"x":2204,"y":3.97},{"p":3,"c":14,"x":2261,"y":3.9},
{"p":3,"c":15,"x":2336,"y":5.03},{"p":3,"c":15,"x":2311,"y":4.74},{"p":3,"c":15,"x":2321,"y":4.25},{"p":3,"c":15,"x":2369,"y":4.3},{"p":3,"c":15,"x":2345,"y":3.87},
{"p":3,"c":16,"x":2386,"y":7.08},{"p":3,"c":16,"x":2439,"y":4.91},{"p":3,"c":16,"x":2401,"y":4.58},{"p":3,"c":16,"x":2388,"y":4.16},{"p":3,"c":16,"x":2439,"y":4.08},{"p":3,"c":16,"x":2415,"y":3.8},{"p":3,"c":16,"x":2456,"y":3.78},
{"p":3,"c":17,"x":2480,"y":4.88},{"p":3,"c":17,"x":2523,"y":4.35},{"p":3,"c":17,"x":2542,"y":4.3},{"p":3,"c":17,"x":2495,"y":4.06},{"p":3,"c":17,"x":2541,"y":3.83},
{"p":3,"c":18,"x":2632,"y":6.54},{"p":3,"c":18,"x":2632,"y":6.45},{"p":3,"c":18,"x":2613,"y":6.09},{"p":3,"c":18,"x":2630,"y":4.39},{"p":3,"c":18,"x":2608,"y":4.21},{"p":3,"c":18,"x":2595,"y":3.5},{"p":3,"c":18,"x":2570,"y":3.12},
{"p":3,"c":19,"x":2645,"y":4.75},{"p":3,"c":19,"x":2683,"y":4.21},{"p":3,"c":19,"x":2655,"y":3.97},{"p":3,"c":19,"x":2692,"y":3.83},
{"p":3,"c":20,"x":2724,"y":4.08},{"p":3,"c":20,"x":2753,"y":3.87},{"p":3,"c":20,"x":2706,"y":3.4},
{"p":3,"c":21,"x":2808,"y":3.83},{"p":3,"c":21,"x":2790,"y":3.31},
{"p":3,"c":22,"x":2867,"y":4.77},{"p":3,"c":22,"x":2867,"y":4.25},{"p":3,"c":22,"x":2848,"y":4.06},{"p":3,"c":22,"x":2876,"y":3.87},
{"p":4,"c":1,"x":9,"y":4.82},{"p":4,"c":1,"x":9,"y":4.55},{"p":4,"c":1,"x":47,"y":4.36},{"p":4,"c":1,"x":28,"y":4.29},{"p":4,"c":1,"x":56,"y":4.17},{"p":4,"c":1,"x":84,"y":3.98},{"p":4,"c":1,"x":19,"y":3.93},{"p":4,"c":1,"x":62,"y":3.69},{"p":4,"c":1,"x":113,"y":3.17},{"p":4,"c":1,"x":141,"y":4.05},{"p":4,"c":1,"x":163,"y":3.93},{"p":4,"c":1,"x":235,"y":4.98},{"p":4,"c":1,"x":206,"y":3.74},{"p":4,"c":1,"x":169,"y":3.55},
{"p":4,"c":2,"x":450,"y":5.27},{"p":4,"c":2,"x":403,"y":5.12},{"p":4,"c":2,"x":328,"y":4.65},{"p":4,"c":2,"x":248,"y":4.65},{"p":4,"c":2,"x":272,"y":4.46},{"p":4,"c":2,"x":285,"y":4.27},{"p":4,"c":2,"x":375,"y":4.43},{"p":4,"c":2,"x":394,"y":4.24},{"p":4,"c":2,"x":465,"y":4.62},{"p":4,"c":2,"x":259,"y":4.03},{"p":4,"c":2,"x":347,"y":3.79},{"p":4,"c":2,"x":450,"y":3.88},{"p":4,"c":2,"x":281,"y":3.55},{"p":4,"c":2,"x":417,"y":3.41},
{"p":4,"c":3,"x":595,"y":5.51},{"p":4,"c":3,"x":638,"y":5.33},{"p":4,"c":3,"x":493,"y":5.2},{"p":4,"c":3,"x":522,"y":4.72},{"p":4,"c":3,"x":531,"y":4.27},{"p":4,"c":3,"x":591,"y":4.1},{"p":4,"c":3,"x":619,"y":4.65},{"p":4,"c":3,"x":647,"y":3.84},{"p":4,"c":3,"x":544,"y":3.45},
{"p":4,"c":4,"x":812,"y":4.68},{"p":4,"c":4,"x":679,"y":4.5},{"p":4,"c":4,"x":835,"y":4.12},{"p":4,"c":4,"x":760,"y":3.98},{"p":4,"c":4,"x":685,"y":3.79},{"p":4,"c":4,"x":797,"y":3.55},{"p":4,"c":4,"x":722,"y":3.45},{"p":4,"c":4,"x":844,"y":3.17},
{"p":4,"c":5,"x":936,"y":5.89},{"p":4,"c":5,"x":1004,"y":4.77},{"p":4,"c":5,"x":976,"y":4.68},{"p":4,"c":5,"x":901,"y":3.69},{"p":4,"c":5,"x":976,"y":3.74},{"p":4,"c":5,"x":1013,"y":3.45},{"p":4,"c":5,"x":882,"y":3.26},
{"p":4,"c":6,"x":1079,"y":5.91},{"p":4,"c":6,"x":1069,"y":4.96},{"p":4,"c":6,"x":1159,"y":4.5},{"p":4,"c":6,"x":1066,"y":4.24},{"p":4,"c":6,"x":1178,"y":4.17},{"p":4,"c":6,"x":1191,"y":3.76},{"p":4,"c":6,"x":1129,"y":4.1},{"p":4,"c":6,"x":1098,"y":3.55},{"p":4,"c":6,"x":1144,"y":3.31},
{"p":4,"c":7,"x":1355,"y":4.72},{"p":4,"c":7,"x":1219,"y":4.03},{"p":4,"c":7,"x":1253,"y":3.86},{"p":4,"c":7,"x":1294,"y":3.45},{"p":4,"c":7,"x":1332,"y":3.55},{"p":4,"c":7,"x":1276,"y":3.17},
{"p":4,"c":8,"x":1454,"y":5.67},{"p":4,"c":8,"x":1460,"y":4.89},{"p":4,"c":8,"x":1388,"y":4.38},{"p":4,"c":8,"x":1497,"y":4.55},{"p":4,"c":8,"x":1497,"y":4.15},{"p":4,"c":8,"x":1497,"y":3.88},{"p":4,"c":8,"x":1458,"y":3.93},{"p":4,"c":8,"x":1379,"y":3.65},{"p":4,"c":8,"x":1426,"y":3.65},{"p":4,"c":8,"x":1473,"y":3.45},
{"p":4,"c":9,"x":1538,"y":2.74},{"p":4,"c":9,"x":1531,"y":2.31},{"p":4,"c":9,"x":1591,"y":3.95},{"p":4,"c":9,"x":1595,"y":3.55},{"p":4,"c":9,"x":1628,"y":3.74},{"p":4,"c":9,"x":1638,"y":5.3},{"p":4,"c":9,"x":1638,"y":4.87},
{"p":4,"c":10,"x":1717,"y":4.08},{"p":4,"c":10,"x":1773,"y":4.48},{"p":4,"c":10,"x":1651,"y":3.69},{"p":4,"c":10,"x":1698,"y":3.88},{"p":4,"c":10,"x":1679,"y":3.55},{"p":4,"c":10,"x":1754,"y":3.45},
{"p":4,"c":11,"x":1786,"y":5.41},{"p":4,"c":11,"x":1857,"y":4.98},{"p":4,"c":11,"x":1863,"y":4.31},{"p":4,"c":11,"x":1844,"y":4.0},{"p":4,"c":11,"x":1904,"y":3.84},{"p":4,"c":11,"x":1801,"y":3.65},
{"p":4,"c":12,"x":1970,"y":5.98},{"p":4,"c":12,"x":2036,"y":5.44},{"p":4,"c":12,"x":2007,"y":4.79},{"p":4,"c":12,"x":1972,"y":4.52},{"p":4,"c":12,"x":2017,"y":4.62},{"p":4,"c":12,"x":2041,"y":4.27},{"p":4,"c":12,"x":1928,"y":3.98},{"p":4,"c":12,"x":1975,"y":3.84},{"p":4,"c":12,"x":1950,"y":3.45},
{"p":4,"c":13,"x":2112,"y":6.39},{"p":4,"c":13,"x":2097,"y":5.46},{"p":4,"c":13,"x":2096,"y":4.57},{"p":4,"c":13,"x":2152,"y":4.65},{"p":4,"c":13,"x":2079,"y":3.98},{"p":4,"c":13,"x":2101,"y":3.65},{"p":4,"c":13,"x":2139,"y":3.07},
{"p":4,"c":14,"x":2242,"y":4.48},{"p":4,"c":14,"x":2264,"y":4.17},{"p":4,"c":14,"x":2232,"y":4.03},{"p":4,"c":14,"x":2255,"y":3.84},{"p":4,"c":14,"x":2204,"y":3.36},
{"p":4,"c":15,"x":2309,"y":4.27},{"p":4,"c":15,"x":2326,"y":3.74},{"p":4,"c":15,"x":2349,"y":3.6},{"p":4,"c":15,"x":2373,"y":3.26},
{"p":4,"c":16,"x":2435,"y":4.7},{"p":4,"c":16,"x":2424,"y":4.24},{"p":4,"c":16,"x":2388,"y":3.98},{"p":4,"c":16,"x":2439,"y":3.65},{"p":4,"c":16,"x":2467,"y":3.74},
{"p":4,"c":17,"x":2546,"y":4.89},{"p":4,"c":17,"x":2546,"y":4.58},{"p":4,"c":17,"x":2542,"y":4.2},{"p":4,"c":17,"x":2504,"y":4.12},{"p":4,"c":17,"x":2533,"y":3.84},{"p":4,"c":17,"x":2495,"y":3.65},
{"p":4,"c":18,"x":2589,"y":4.33},{"p":4,"c":18,"x":2617,"y":3.45},{"p":4,"c":18,"x":2583,"y":3.12},{"p":4,"c":18,"x":2626,"y":3.26},
{"p":4,"c":19,"x":2687,"y":5.3},{"p":4,"c":19,"x":2687,"y":5.08},{"p":4,"c":19,"x":2660,"y":4.58},{"p":4,"c":19,"x":2692,"y":4.31},{"p":4,"c":19,"x":2645,"y":3.84},
{"p":4,"c":20,"x":2745,"y":3.76},{"p":4,"c":20,"x":2726,"y":3.53},{"p":4,"c":20,"x":2758,"y":3.41},
{"p":4,"c":21,"x":2805,"y":5.12},{"p":4,"c":21,"x":2818,"y":4.62},{"p":4,"c":21,"x":2805,"y":4.27},{"p":4,"c":21,"x":2814,"y":3.98},{"p":4,"c":21,"x":2795,"y":3.36},
{"p":4,"c":22,"x":2870,"y":3.74},{"p":4,"c":22,"x":2865,"y":3.45},{"p":4,"c":22,"x":2852,"y":3.07},
{"p":5,"c":1,"x":113,"y":6.46},{"p":5,"c":1,"x":8,"y":5.81},{"p":5,"c":1,"x":45,"y":5.56},{"p":5,"c":1,"x":38,"y":5.22},{"p":5,"c":1,"x":53,"y":5.22},{"p":5,"c":1,"x":28,"y":4.99},{"p":5,"c":1,"x":101,"y":5.22},{"p":5,"c":1,"x":9,"y":4.52},{"p":5,"c":1,"x":45,"y":4.6},{"p":5,"c":1,"x":23,"y":4.09},{"p":5,"c":1,"x":109,"y":4.2},{"p":5,"c":1,"x":175,"y":5.73},{"p":5,"c":1,"x":188,"y":5.45},{"p":5,"c":1,"x":163,"y":5.3},{"p":5,"c":1,"x":220,"y":4.77},{"p":5,"c":1,"x":150,"y":4.63},{"p":5,"c":1,"x":197,"y":4.43},{"p":5,"c":1,"x":146,"y":4.09},
{"p":5,"c":2,"x":428,"y":6.17},{"p":5,"c":2,"x":270,"y":5.36},{"p":5,"c":2,"x":450,"y":5.36},{"p":5,"c":2,"x":371,"y":4.88},{"p":5,"c":2,"x":338,"y":4.75},{"p":5,"c":2,"x":253,"y":4.71},{"p":5,"c":2,"x":266,"y":4.56},{"p":5,"c":2,"x":388,"y":4.49},{"p":5,"c":2,"x":409,"y":4.43},{"p":5,"c":2,"x":315,"y":4.2},{"p":5,"c":2,"x":248,"y":4.2},{"p":5,"c":2,"x":356,"y":3.86},{"p":5,"c":2,"x":450,"y":3.75},
{"p":5,"c":3,"x":550,"y":5.22},{"p":5,"c":3,"x":531,"y":4.69},{"p":5,"c":3,"x":619,"y":5.03},{"p":5,"c":3,"x":657,"y":4.91},{"p":5,"c":3,"x":484,"y":4.46},{"p":5,"c":3,"x":544,"y":4.09},{"p":5,"c":3,"x":629,"y":4.09},{"p":5,"c":3,"x":600,"y":3.75},
{"p":5,"c":4,"x":754,"y":5.47},{"p":5,"c":4,"x":835,"y":5.13},{"p":5,"c":4,"x":803,"y":4.88},{"p":5,"c":4,"x":728,"y":4.37},{"p":5,"c":4,"x":784,"y":4.43},{"p":5,"c":4,"x":694,"y":4.26},{"p":5,"c":4,"x":835,"y":4.2},{"p":5,"c":4,"x":741,"y":3.92},{"p":5,"c":4,"x":807,"y":3.75},
{"p":5,"c":5,"x":972,"y":6.24},{"p":5,"c":5,"x":863,"y":5.36},{"p":5,"c":5,"x":910,"y":4.83},{"p":5,"c":5,"x":947,"y":4.58},{"p":5,"c":5,"x":1004,"y":4.09},{"p":5,"c":5,"x":901,"y":3.86},{"p":5,"c":5,"x":863,"y":4.32},
{"p":5,"c":6,"x":1066,"y":5.03},{"p":5,"c":6,"x":1176,"y":4.69},{"p":5,"c":6,"x":1195,"y":4.66},{"p":5,"c":6,"x":1075,"y":4.43},{"p":5,"c":6,"x":1191,"y":4.37},{"p":5,"c":6,"x":1041,"y":4.2},{"p":5,"c":6,"x":1126,"y":4.15},{"p":5,"c":6,"x":1088,"y":3.75},{"p":5,"c":6,"x":1173,"y":3.98},
{"p":5,"c":7,"x":1257,"y":5.03},{"p":5,"c":7,"x":1323,"y":4.66},{"p":5,"c":7,"x":1300,"y":4.58},{"p":5,"c":7,"x":1276,"y":4.49},{"p":5,"c":7,"x":1242,"y":4.09},{"p":5,"c":7,"x":1341,"y":3.92},{"p":5,"c":7,"x":1294,"y":3.64},
{"p":5,"c":8,"x":1388,"y":6.1},{"p":5,"c":8,"x":1430,"y":5.24},{"p":5,"c":8,"x":1450,"y":5.2},{"p":5,"c":8,"x":1497,"y":5.31},{"p":5,"c":8,"x":1385,"y":5.02},{"p":5,"c":8,"x":1458,"y":4.9},{"p":5,"c":8,"x":1422,"y":4.51},{"p":5,"c":8,"x":1370,"y":4.2},{"p":5,"c":8,"x":1401,"y":3.98},{"p":5,"c":8,"x":1482,"y":4.03},
{"p":5,"c":9,"x":1544,"y":4.68},{"p":5,"c":9,"x":1538,"y":3.19},{"p":5,"c":9,"x":1529,"y":2.62},{"p":5,"c":9,"x":1591,"y":3.66},{"p":5,"c":9,"x":1632,"y":4.15},{"p":5,"c":9,"x":1580,"y":2.96},
{"p":5,"c":10,"x":1651,"y":4.8},{"p":5,"c":10,"x":1688,"y":4.71},{"p":5,"c":10,"x":1745,"y":5.36},{"p":5,"c":10,"x":1773,"y":4.86},{"p":5,"c":10,"x":1735,"y":4.43},{"p":5,"c":10,"x":1670,"y":4.26},{"p":5,"c":10,"x":1707,"y":3.86},{"p":5,"c":10,"x":1763,"y":4.09},
{"p":5,"c":11,"x":1786,"y":6.29},{"p":5,"c":11,"x":1788,"y":4.66},{"p":5,"c":11,"x":1908,"y":5.05},{"p":5,"c":11,"x":1876,"y":4.83},{"p":5,"c":11,"x":1885,"y":4.43},{"p":5,"c":11,"x":1848,"y":3.92},{"p":5,"c":11,"x":1810,"y":3.75},
{"p":5,"c":12,"x":1927,"y":5.56},{"p":5,"c":12,"x":2026,"y":5.71},{"p":5,"c":12,"x":1932,"y":4.88},{"p":5,"c":12,"x":1970,"y":4.54},{"p":5,"c":12,"x":1989,"y":4.2},{"p":5,"c":12,"x":2036,"y":4.15},{"p":5,"c":12,"x":2017,"y":3.92},{"p":5,"c":12,"x":1942,"y":3.75},
{"p":5,"c":13,"x":2157,"y":5.64},{"p":5,"c":13,"x":2092,"y":5.36},{"p":5,"c":13,"x":2157,"y":4.71},{"p":5,"c":13,"x":2079,"y":3.92},{"p":5,"c":13,"x":2129,"y":3.75},
{"p":5,"c":14,"x":2264,"y":5.11},{"p":5,"c":14,"x":2255,"y":4.77},{"p":5,"c":14,"x":2238,"y":4.15},{"p":5,"c":14,"x":2195,"y":3.86},{"p":5,"c":14,"x":2261,"y":3.86},
{"p":5,"c":15,"x":2369,"y":4.75},{"p":5,"c":15,"x":2336,"y":4.18},{"p":5,"c":15,"x":2308,"y":4.15},{"p":5,"c":15,"x":2354,"y":3.86},
{"p":5,"c":16,"x":2386,"y":6.37},{"p":5,"c":16,"x":2386,"y":5.22},{"p":5,"c":16,"x":2429,"y":4.49},{"p":5,"c":16,"x":2456,"y":5.02},{"p":5,"c":16,"x":2401,"y":3.98},{"p":5,"c":16,"x":2442,"y":4.09},
{"p":5,"c":17,"x":2476,"y":4.54},{"p":5,"c":17,"x":2504,"y":4.37},{"p":5,"c":17,"x":2542,"y":4.09},{"p":5,"c":17,"x":2495,"y":3.98},
{"p":5,"c":18,"x":2613,"y":5.71},{"p":5,"c":18,"x":2604,"y":5.11},{"p":5,"c":18,"x":2589,"y":3.92},{"p":5,"c":18,"x":2626,"y":3.81},
{"p":5,"c":19,"x":2664,"y":8.3},{"p":5,"c":19,"x":2677,"y":4.69},{"p":5,"c":19,"x":2645,"y":4.66},{"p":5,"c":19,"x":2655,"y":4.43},{"p":5,"c":19,"x":2692,"y":4.26},
{"p":5,"c":20,"x":2753,"y":4.6},{"p":5,"c":20,"x":2738,"y":4.23},{"p":5,"c":20,"x":2753,"y":3.86},{"p":5,"c":20,"x":2714,"y":3.52},
{"p":5,"c":21,"x":2818,"y":4.28},{"p":5,"c":21,"x":2805,"y":3.64},
{"p":5,"c":22,"x":2867,"y":5.71},{"p":5,"c":22,"x":2861,"y":5.36},{"p":5,"c":22,"x":2857,"y":4.03},{"p":5,"c":22,"x":2870,"y":3.86},
{"p":6,"c":1,"x":101,"y":6.4},{"p":6,"c":1,"x":13,"y":5.02},{"p":6,"c":1,"x":45,"y":5.16},{"p":6,"c":1,"x":60,"y":5.09},{"p":6,"c":1,"x":30,"y":4.92},{"p":6,"c":1,"x":47,"y":4.59},{"p":6,"c":1,"x":15,"y":4.31},{"p":6,"c":1,"x":38,"y":3.84},{"p":6,"c":1,"x":84,"y":3.93},{"p":6,"c":1,"x":116,"y":4.21},{"p":6,"c":1,"x":103,"y":3.7},{"p":6,"c":1,"x":221,"y":4.88},{"p":6,"c":1,"x":193,"y":4.45},{"p":6,"c":1,"x":206,"y":4.53},{"p":6,"c":1,"x":154,"y":4.0},{"p":6,"c":1,"x":178,"y":3.7},{"p":6,"c":1,"x":229,"y":3.46},
{"p":6,"c":2,"x":272,"y":4.69},{"p":6,"c":2,"x":250,"y":4.61},{"p":6,"c":2,"x":319,"y":4.45},{"p":6,"c":2,"x":417,"y":4.45},{"p":6,"c":2,"x":381,"y":4.2},{"p":6,"c":2,"x":263,"y":4.0},{"p":6,"c":2,"x":325,"y":4.0},{"p":6,"c":2,"x":450,"y":3.84},{"p":6,"c":2,"x":435,"y":3.7},{"p":6,"c":2,"x":356,"y":3.68},{"p":6,"c":2,"x":291,"y":3.51},{"p":6,"c":2,"x":460,"y":3.51},
{"p":6,"c":3,"x":559,"y":4.72},{"p":6,"c":3,"x":525,"y":4.48},{"p":6,"c":3,"x":585,"y":4.45},{"p":6,"c":3,"x":634,"y":4.28},{"p":6,"c":3,"x":595,"y":4.03},{"p":6,"c":3,"x":544,"y":3.41},{"p":6,"c":3,"x":488,"y":3.7},
{"p":6,"c":4,"x":671,"y":5.77},{"p":6,"c":4,"x":672,"y":5.58},{"p":6,"c":4,"x":671,"y":4.87},{"p":6,"c":4,"x":680,"y":4.83},{"p":6,"c":4,"x":784,"y":5.32},{"p":6,"c":4,"x":756,"y":4.85},{"p":6,"c":4,"x":848,"y":4.67},{"p":6,"c":4,"x":689,"y":4.21},{"p":6,"c":4,"x":760,"y":4.2},{"p":6,"c":4,"x":807,"y":4.19},{"p":6,"c":4,"x":741,"y":4.04},{"p":6,"c":4,"x":704,"y":3.74},{"p":6,"c":4,"x":825,"y":3.7},{"p":6,"c":4,"x":788,"y":3.41},
{"p":6,"c":5,"x":1007,"y":5.8},{"p":6,"c":5,"x":1004,"y":5.65},{"p":6,"c":5,"x":897,"y":4.73},{"p":6,"c":5,"x":991,"y":4.47},{"p":6,"c":5,"x":1022,"y":4.66},{"p":6,"c":5,"x":957,"y":4.17},{"p":6,"c":5,"x":929,"y":3.81},{"p":6,"c":5,"x":1004,"y":3.79},{"p":6,"c":5,"x":882,"y":3.6},
{"p":6,"c":6,"x":1066,"y":6.05},{"p":6,"c":6,"x":1173,"y":4.92},{"p":6,"c":6,"x":1075,"y":4.83},{"p":6,"c":6,"x":1122,"y":4.55},{"p":6,"c":6,"x":1191,"y":4.53},{"p":6,"c":6,"x":1122,"y":4.26},{"p":6,"c":6,"x":1073,"y":4.4},{"p":6,"c":6,"x":1191,"y":3.98},{"p":6,"c":6,"x":1060,"y":3.98},{"p":6,"c":6,"x":1107,"y":3.7},{"p":6,"c":6,"x":1154,"y":3.46},
{"p":6,"c":7,"x":1208,"y":7.06},{"p":6,"c":7,"x":1208,"y":5.27},{"p":6,"c":7,"x":1353,"y":5.07},{"p":6,"c":7,"x":1276,"y":4.73},{"p":6,"c":7,"x":1251,"y":4.56},{"p":6,"c":7,"x":1351,"y":4.53},{"p":6,"c":7,"x":1266,"y":4.03},{"p":6,"c":7,"x":1304,"y":3.74},{"p":6,"c":7,"x":1229,"y":3.6},{"p":6,"c":7,"x":1332,"y":3.41},
{"p":6,"c":8,"x":1488,"y":4.55},{"p":6,"c":8,"x":1450,"y":4.31},{"p":6,"c":8,"x":1426,"y":4.22},{"p":6,"c":8,"x":1388,"y":4.03},{"p":6,"c":8,"x":1370,"y":3.84},{"p":6,"c":8,"x":1473,"y":3.55},{"p":6,"c":8,"x":1416,"y":3.41},
{"p":6,"c":9,"x":1538,"y":3.13},{"p":6,"c":9,"x":1523,"y":2.66},{"p":6,"c":9,"x":1595,"y":3.27},{"p":6,"c":9,"x":1636,"y":3.6},{"p":6,"c":9,"x":1585,"y":2.85},
{"p":6,"c":10,"x":1688,"y":6.95},{"p":6,"c":10,"x":1692,"y":4.73},{"p":6,"c":10,"x":1773,"y":4.56},{"p":6,"c":10,"x":1745,"y":4.31},{"p":6,"c":10,"x":1657,"y":3.98},{"p":6,"c":10,"x":1717,"y":4.03},{"p":6,"c":10,"x":1759,"y":3.84},{"p":6,"c":10,"x":1679,"y":3.65},
{"p":6,"c":11,"x":1786,"y":5.04},{"p":6,"c":11,"x":1870,"y":4.73},{"p":6,"c":11,"x":1839,"y":4.12},{"p":6,"c":11,"x":1792,"y":4.21},{"p":6,"c":11,"x":1895,"y":4.28},{"p":6,"c":11,"x":1820,"y":3.79},{"p":6,"c":11,"x":1876,"y":3.6},
{"p":6,"c":12,"x":1932,"y":5.87},{"p":6,"c":12,"x":1966,"y":5.23},{"p":6,"c":12,"x":1983,"y":5.37},{"p":6,"c":12,"x":2014,"y":4.64},{"p":6,"c":12,"x":2041,"y":4.53},{"p":6,"c":12,"x":1932,"y":4.31},{"p":6,"c":12,"x":1970,"y":4.17},{"p":6,"c":12,"x":2017,"y":4.36},{"p":6,"c":12,"x":1950,"y":3.88},{"p":6,"c":12,"x":1997,"y":3.7},
{"p":6,"c":13,"x":2157,"y":5.37},{"p":6,"c":13,"x":2157,"y":4.36},{"p":6,"c":13,"x":2092,"y":4.26},{"p":6,"c":13,"x":2079,"y":3.79},{"p":6,"c":13,"x":2120,"y":3.7},{"p":6,"c":13,"x":2139,"y":3.41},
{"p":6,"c":14,"x":2264,"y":5.6},{"p":6,"c":14,"x":2229,"y":5.16},{"p":6,"c":14,"x":2261,"y":4.21},{"p":6,"c":14,"x":2242,"y":3.98},{"p":6,"c":14,"x":2195,"y":3.74},{"p":6,"c":14,"x":2251,"y":3.41},
{"p":6,"c":15,"x":2302,"y":4.42},{"p":6,"c":15,"x":2336,"y":4.31},{"p":6,"c":15,"x":2360,"y":4.4},{"p":6,"c":15,"x":2311,"y":3.65},{"p":6,"c":15,"x":2354,"y":3.88},
{"p":6,"c":16,"x":2386,"y":7.04},{"p":6,"c":16,"x":2435,"y":4.45},{"p":6,"c":16,"x":2411,"y":4.17},{"p":6,"c":16,"x":2388,"y":3.88},{"p":6,"c":16,"x":2469,"y":3.74},{"p":6,"c":16,"x":2439,"y":3.51},
{"p":6,"c":17,"x":2554,"y":5.25},{"p":6,"c":17,"x":2482,"y":4.69},{"p":6,"c":17,"x":2514,"y":4.36},{"p":6,"c":17,"x":2536,"y":4.36},{"p":6,"c":17,"x":2504,"y":3.98},{"p":6,"c":17,"x":2542,"y":3.79},
{"p":6,"c":18,"x":2632,"y":5.82},{"p":6,"c":18,"x":2632,"y":4.59},{"p":6,"c":18,"x":2617,"y":4.03},{"p":6,"c":18,"x":2570,"y":3.51},{"p":6,"c":18,"x":2595,"y":3.6},
{"p":6,"c":19,"x":2645,"y":5.06},{"p":6,"c":19,"x":2692,"y":4.86},{"p":6,"c":19,"x":2677,"y":4.55},{"p":6,"c":19,"x":2641,"y":4.36},{"p":6,"c":19,"x":2683,"y":4.12},{"p":6,"c":19,"x":2655,"y":3.79},
{"p":6,"c":20,"x":2763,"y":3.98},{"p":6,"c":20,"x":2739,"y":3.7},{"p":6,"c":20,"x":2720,"y":3.46},
{"p":6,"c":21,"x":2805,"y":4.07},{"p":6,"c":21,"x":2814,"y":3.51},
{"p":6,"c":22,"x":2870,"y":5.07},{"p":6,"c":22,"x":2861,"y":4.73},{"p":6,"c":22,"x":2874,"y":4.47},{"p":6,"c":22,"x":2852,"y":4.36},{"p":6,"c":22,"x":2861,"y":3.84},{"p":6,"c":22,"x":2870,"y":3.51}
]},
"vconcat":[
{"width":1196,"height":263,"layer":[
{"data":{"name":"body"},"transform":[{"filter":"datum.p==1"}],"mark":{"type":"rect","x2Offset":0.7},"encoding":{"x":{"field":"s","type":"quantitative","scale":{"domain":[0,2882],"nice":false,"zero":false},"axis":null},"x2":{"field":"e"},"y":{"field":"h","type":"quantitative","scale":{"domain":[0,10.05],"nice":false,"zero":true},"axis":{"title":"Post-FEV1/FVC"}},"y2":{"datum":0},"fill":{"field":"c","type":"nominal","scale":{"domain":[1,2,3,4,5,6,7,8,9,10,11,12,13,14,15,16,17,18,19,20,21,22],"range":["#6aaeff","#2b5c99","#6aaeff","#2b5c99","#6aaeff","#2b5c99","#6aaeff","#2b5c99","#6aaeff","#2b5c99","#6aaeff","#2b5c99","#6aaeff","#2b5c99","#6aaeff","#2b5c99","#6aaeff","#2b5c99","#6aaeff","#2b5c99","#6aaeff","#2b5c99"]},"legend":null}}},
{"data":{"name":"body"},"transform":[{"filter":"datum.p==1"}],"mark":{"type":"rect","opacity":0.5,"x2Offset":0.5},"encoding":{"x":{"field":"s","type":"quantitative","axis":null},"x2":{"field":"e"},"y":{"field":"f","type":"quantitative","axis":{"title":"Post-FEV1/FVC"}},"y2":{"field":"h"},"fill":{"field":"c","type":"nominal","scale":{"domain":[1,2,3,4,5,6,7,8,9,10,11,12,13,14,15,16,17,18,19,20,21,22],"range":["#6aaeff","#2b5c99","#6aaeff","#2b5c99","#6aaeff","#2b5c99","#6aaeff","#2b5c99","#6aaeff","#2b5c99","#6aaeff","#2b5c99","#6aaeff","#2b5c99","#6aaeff","#2b5c99","#6aaeff","#2b5c99","#6aaeff","#2b5c99","#6aaeff","#2b5c99"]},"legend":null}}},
{"data":{"name":"chrom"},"mark":{"type":"rule","color":"#bebebe","strokeWidth":3},"encoding":{"x":{"field":"s","type":"quantitative","axis":null},"x2":{"field":"e"},"y":{"datum":7.3,"type":"quantitative","axis":{"title":"Post-FEV1/FVC"}}}},
{"data":{"name":"chrom"},"mark":{"type":"rule","color":"#bebebe","strokeWidth":3,"strokeDash":[16.5,11.5]},"encoding":{"x":{"field":"s","type":"quantitative","axis":null},"x2":{"field":"e"},"y":{"datum":6.21,"type":"quantitative","axis":{"title":"Post-FEV1/FVC"}}}},
{"data":{"name":"pts"},"transform":[{"filter":"datum.p==1"}],"mark":{"type":"circle","size":24,"opacity":1},"encoding":{"x":{"field":"x","type":"quantitative","axis":null},"y":{"field":"y","type":"quantitative","axis":{"title":"Post-FEV1/FVC"}},"color":{"field":"c","type":"nominal","scale":{"domain":[1,2,3,4,5,6,7,8,9,10,11,12,13,14,15,16,17,18,19,20,21,22],"range":["#6aaeff","#2b5c99","#6aaeff","#2b5c99","#6aaeff","#2b5c99","#6aaeff","#2b5c99","#6aaeff","#2b5c99","#6aaeff","#2b5c99","#6aaeff","#2b5c99","#6aaeff","#2b5c99","#6aaeff","#2b5c99","#6aaeff","#2b5c99","#6aaeff","#2b5c99"]},"legend":null}}}
]},
{"width":1196,"height":263,"layer":[
{"data":{"name":"body"},"transform":[{"filter":"datum.p==2"}],"mark":{"type":"rect","x2Offset":0.7},"encoding":{"x":{"field":"s","type":"quantitative","scale":{"domain":[0,2882],"nice":false,"zero":false},"axis":null},"x2":{"field":"e"},"y":{"field":"h","type":"quantitative","scale":{"domain":[0,7.44],"nice":false,"zero":true},"axis":{"title":"Post-FVC"}},"y2":{"datum":0},"fill":{"field":"c","type":"nominal","scale":{"domain":[1,2,3,4,5,6,7,8,9,10,11,12,13,14,15,16,17,18,19,20,21,22],"range":["#6aaeff","#2b5c99","#6aaeff","#2b5c99","#6aaeff","#2b5c99","#6aaeff","#2b5c99","#6aaeff","#2b5c99","#6aaeff","#2b5c99","#6aaeff","#2b5c99","#6aaeff","#2b5c99","#6aaeff","#2b5c99","#6aaeff","#2b5c99","#6aaeff","#2b5c99"]},"legend":null}}},
{"data":{"name":"body"},"transform":[{"filter":"datum.p==2"}],"mark":{"type":"rect","opacity":0.5,"x2Offset":0.5},"encoding":{"x":{"field":"s","type":"quantitative","axis":null},"x2":{"field":"e"},"y":{"field":"f","type":"quantitative","axis":{"title":"Post-FVC"}},"y2":{"field":"h"},"fill":{"field":"c","type":"nominal","scale":{"domain":[1,2,3,4,5,6,7,8,9,10,11,12,13,14,15,16,17,18,19,20,21,22],"range":["#6aaeff","#2b5c99","#6aaeff","#2b5c99","#6aaeff","#2b5c99","#6aaeff","#2b5c99","#6aaeff","#2b5c99","#6aaeff","#2b5c99","#6aaeff","#2b5c99","#6aaeff","#2b5c99","#6aaeff","#2b5c99","#6aaeff","#2b5c99","#6aaeff","#2b5c99"]},"legend":null}}},
{"data":{"name":"chrom"},"mark":{"type":"rule","color":"#bebebe","strokeWidth":3},"encoding":{"x":{"field":"s","type":"quantitative","axis":null},"x2":{"field":"e"},"y":{"datum":7.3,"type":"quantitative","axis":{"title":"Post-FVC"}}}},
{"data":{"name":"chrom"},"mark":{"type":"rule","color":"#bebebe","strokeWidth":3,"strokeDash":[16.5,11.5]},"encoding":{"x":{"field":"s","type":"quantitative","axis":null},"x2":{"field":"e"},"y":{"datum":6.26,"type":"quantitative","axis":{"title":"Post-FVC"}}}},
{"data":{"name":"pts"},"transform":[{"filter":"datum.p==2"}],"mark":{"type":"circle","size":24,"opacity":1},"encoding":{"x":{"field":"x","type":"quantitative","axis":null},"y":{"field":"y","type":"quantitative","axis":{"title":"Post-FVC"}},"color":{"field":"c","type":"nominal","scale":{"domain":[1,2,3,4,5,6,7,8,9,10,11,12,13,14,15,16,17,18,19,20,21,22],"range":["#6aaeff","#2b5c99","#6aaeff","#2b5c99","#6aaeff","#2b5c99","#6aaeff","#2b5c99","#6aaeff","#2b5c99","#6aaeff","#2b5c99","#6aaeff","#2b5c99","#6aaeff","#2b5c99","#6aaeff","#2b5c99","#6aaeff","#2b5c99","#6aaeff","#2b5c99"]},"legend":null}}}
]},
{"width":1196,"height":263,"layer":[
{"data":{"name":"body"},"transform":[{"filter":"datum.p==3"}],"mark":{"type":"rect","x2Offset":0.7},"encoding":{"x":{"field":"s","type":"quantitative","scale":{"domain":[0,2882],"nice":false,"zero":false},"axis":null},"x2":{"field":"e"},"y":{"field":"h","type":"quantitative","scale":{"domain":[0,7.44],"nice":false,"zero":true},"axis":{"title":"Post-FEV1"}},"y2":{"datum":0},"fill":{"field":"c","type":"nominal","scale":{"domain":[1,2,3,4,5,6,7,8,9,10,11,12,13,14,15,16,17,18,19,20,21,22],"range":["#6aaeff","#2b5c99","#6aaeff","#2b5c99","#6aaeff","#2b5c99","#6aaeff","#2b5c99","#6aaeff","#2b5c99","#6aaeff","#2b5c99","#6aaeff","#2b5c99","#6aaeff","#2b5c99","#6aaeff","#2b5c99","#6aaeff","#2b5c99","#6aaeff","#2b5c99"]},"legend":null}}},
{"data":{"name":"body"},"transform":[{"filter":"datum.p==3"}],"mark":{"type":"rect","opacity":0.5,"x2Offset":0.5},"encoding":{"x":{"field":"s","type":"quantitative","axis":null},"x2":{"field":"e"},"y":{"field":"f","type":"quantitative","axis":{"title":"Post-FEV1"}},"y2":{"field":"h"},"fill":{"field":"c","type":"nominal","scale":{"domain":[1,2,3,4,5,6,7,8,9,10,11,12,13,14,15,16,17,18,19,20,21,22],"range":["#6aaeff","#2b5c99","#6aaeff","#2b5c99","#6aaeff","#2b5c99","#6aaeff","#2b5c99","#6aaeff","#2b5c99","#6aaeff","#2b5c99","#6aaeff","#2b5c99","#6aaeff","#2b5c99","#6aaeff","#2b5c99","#6aaeff","#2b5c99","#6aaeff","#2b5c99"]},"legend":null}}},
{"data":{"name":"chrom"},"mark":{"type":"rule","color":"#bebebe","strokeWidth":3},"encoding":{"x":{"field":"s","type":"quantitative","axis":null},"x2":{"field":"e"},"y":{"datum":7.3,"type":"quantitative","axis":{"title":"Post-FEV1"}}}},
{"data":{"name":"chrom"},"mark":{"type":"rule","color":"#bebebe","strokeWidth":3,"strokeDash":[16.5,11.5]},"encoding":{"x":{"field":"s","type":"quantitative","axis":null},"x2":{"field":"e"},"y":{"datum":7.08,"type":"quantitative","axis":{"title":"Post-FEV1"}}}},
{"data":{"name":"pts"},"transform":[{"filter":"datum.p==3"}],"mark":{"type":"circle","size":24,"opacity":1},"encoding":{"x":{"field":"x","type":"quantitative","axis":null},"y":{"field":"y","type":"quantitative","axis":{"title":"Post-FEV1"}},"color":{"field":"c","type":"nominal","scale":{"domain":[1,2,3,4,5,6,7,8,9,10,11,12,13,14,15,16,17,18,19,20,21,22],"range":["#6aaeff","#2b5c99","#6aaeff","#2b5c99","#6aaeff","#2b5c99","#6aaeff","#2b5c99","#6aaeff","#2b5c99","#6aaeff","#2b5c99","#6aaeff","#2b5c99","#6aaeff","#2b5c99","#6aaeff","#2b5c99","#6aaeff","#2b5c99","#6aaeff","#2b5c99"]},"legend":null}}}
]},
{"width":1196,"height":263,"layer":[
{"data":{"name":"body"},"transform":[{"filter":"datum.p==4"}],"mark":{"type":"rect","x2Offset":0.7},"encoding":{"x":{"field":"s","type":"quantitative","scale":{"domain":[0,2882],"nice":false,"zero":false},"axis":null},"x2":{"field":"e"},"y":{"field":"h","type":"quantitative","scale":{"domain":[0,7.53],"nice":false,"zero":true},"axis":{"title":"Pre-FEV1/FVC"}},"y2":{"datum":0},"fill":{"field":"c","type":"nominal","scale":{"domain":[1,2,3,4,5,6,7,8,9,10,11,12,13,14,15,16,17,18,19,20,21,22],"range":["#6aaeff","#2b5c99","#6aaeff","#2b5c99","#6aaeff","#2b5c99","#6aaeff","#2b5c99","#6aaeff","#2b5c99","#6aaeff","#2b5c99","#6aaeff","#2b5c99","#6aaeff","#2b5c99","#6aaeff","#2b5c99","#6aaeff","#2b5c99","#6aaeff","#2b5c99"]},"legend":null}}},
{"data":{"name":"body"},"transform":[{"filter":"datum.p==4"}],"mark":{"type":"rect","opacity":0.5,"x2Offset":0.5},"encoding":{"x":{"field":"s","type":"quantitative","axis":null},"x2":{"field":"e"},"y":{"field":"f","type":"quantitative","axis":{"title":"Pre-FEV1/FVC"}},"y2":{"field":"h"},"fill":{"field":"c","type":"nominal","scale":{"domain":[1,2,3,4,5,6,7,8,9,10,11,12,13,14,15,16,17,18,19,20,21,22],"range":["#6aaeff","#2b5c99","#6aaeff","#2b5c99","#6aaeff","#2b5c99","#6aaeff","#2b5c99","#6aaeff","#2b5c99","#6aaeff","#2b5c99","#6aaeff","#2b5c99","#6aaeff","#2b5c99","#6aaeff","#2b5c99","#6aaeff","#2b5c99","#6aaeff","#2b5c99"]},"legend":null}}},
{"data":{"name":"chrom"},"mark":{"type":"rule","color":"#bebebe","strokeWidth":3},"encoding":{"x":{"field":"s","type":"quantitative","axis":null},"x2":{"field":"e"},"y":{"datum":7.3,"type":"quantitative","axis":{"title":"Pre-FEV1/FVC"}}}},
{"data":{"name":"pts"},"transform":[{"filter":"datum.p==4"}],"mark":{"type":"circle","size":24,"opacity":1},"encoding":{"x":{"field":"x","type":"quantitative","axis":null},"y":{"field":"y","type":"quantitative","axis":{"title":"Pre-FEV1/FVC"}},"color":{"field":"c","type":"nominal","scale":{"domain":[1,2,3,4,5,6,7,8,9,10,11,12,13,14,15,16,17,18,19,20,21,22],"range":["#6aaeff","#2b5c99","#6aaeff","#2b5c99","#6aaeff","#2b5c99","#6aaeff","#2b5c99","#6aaeff","#2b5c99","#6aaeff","#2b5c99","#6aaeff","#2b5c99","#6aaeff","#2b5c99","#6aaeff","#2b5c99","#6aaeff","#2b5c99","#6aaeff","#2b5c99"]},"legend":null}}}
]},
{"width":1196,"height":263,"layer":[
{"data":{"name":"body"},"transform":[{"filter":"datum.p==5"}],"mark":{"type":"rect","x2Offset":0.7},"encoding":{"x":{"field":"s","type":"quantitative","scale":{"domain":[0,2882],"nice":false,"zero":false},"axis":null},"x2":{"field":"e"},"y":{"field":"h","type":"quantitative","scale":{"domain":[0,8.92],"nice":false,"zero":true},"axis":{"title":"Pre-FVC"}},"y2":{"datum":0},"fill":{"field":"c","type":"nominal","scale":{"domain":[1,2,3,4,5,6,7,8,9,10,11,12,13,14,15,16,17,18,19,20,21,22],"range":["#6aaeff","#2b5c99","#6aaeff","#2b5c99","#6aaeff","#2b5c99","#6aaeff","#2b5c99","#6aaeff","#2b5c99","#6aaeff","#2b5c99","#6aaeff","#2b5c99","#6aaeff","#2b5c99","#6aaeff","#2b5c99","#6aaeff","#2b5c99","#6aaeff","#2b5c99"]},"legend":null}}},
{"data":{"name":"body"},"transform":[{"filter":"datum.p==5"}],"mark":{"type":"rect","opacity":0.5,"x2Offset":0.5},"encoding":{"x":{"field":"s","type":"quantitative","axis":null},"x2":{"field":"e"},"y":{"field":"f","type":"quantitative","axis":{"title":"Pre-FVC"}},"y2":{"field":"h"},"fill":{"field":"c","type":"nominal","scale":{"domain":[1,2,3,4,5,6,7,8,9,10,11,12,13,14,15,16,17,18,19,20,21,22],"range":["#6aaeff","#2b5c99","#6aaeff","#2b5c99","#6aaeff","#2b5c99","#6aaeff","#2b5c99","#6aaeff","#2b5c99","#6aaeff","#2b5c99","#6aaeff","#2b5c99","#6aaeff","#2b5c99","#6aaeff","#2b5c99","#6aaeff","#2b5c99","#6aaeff","#2b5c99"]},"legend":null}}},
{"data":{"name":"chrom"},"mark":{"type":"rule","color":"#bebebe","strokeWidth":3},"encoding":{"x":{"field":"s","type":"quantitative","axis":null},"x2":{"field":"e"},"y":{"datum":7.3,"type":"quantitative","axis":{"title":"Pre-FVC"}}}},
{"data":{"name":"chrom"},"mark":{"type":"rule","color":"#bebebe","strokeWidth":3,"strokeDash":[16.5,11.5]},"encoding":{"x":{"field":"s","type":"quantitative","axis":null},"x2":{"field":"e"},"y":{"datum":8.3,"type":"quantitative","axis":{"title":"Pre-FVC"}}}},
{"data":{"name":"pts"},"transform":[{"filter":"datum.p==5"}],"mark":{"type":"circle","size":24,"opacity":1},"encoding":{"x":{"field":"x","type":"quantitative","axis":null},"y":{"field":"y","type":"quantitative","axis":{"title":"Pre-FVC"}},"color":{"field":"c","type":"nominal","scale":{"domain":[1,2,3,4,5,6,7,8,9,10,11,12,13,14,15,16,17,18,19,20,21,22],"range":["#6aaeff","#2b5c99","#6aaeff","#2b5c99","#6aaeff","#2b5c99","#6aaeff","#2b5c99","#6aaeff","#2b5c99","#6aaeff","#2b5c99","#6aaeff","#2b5c99","#6aaeff","#2b5c99","#6aaeff","#2b5c99","#6aaeff","#2b5c99","#6aaeff","#2b5c99"]},"legend":null}}}
]},
{"width":1196,"height":263,"layer":[
{"data":{"name":"body"},"transform":[{"filter":"datum.p==6"}],"mark":{"type":"rect","x2Offset":0.7},"encoding":{"x":{"field":"s","type":"quantitative","scale":{"domain":[0,2882],"nice":false,"zero":false},"axis":{"title":"Chromosome","values":[123,350,578,761,928,1110,1275,1440,1586,1709,1847,1988,2115,2241,2321,2402,2483,2562,2642,2721,2801,2881],"labelExpr":"'' + (indexof([123,350,578,761,928,1110,1275,1440,1586,1709,1847,1988,2115,2241,2321,2402,2483,2562,2642,2721,2801,2881], datum.value) + 1)"}},"x2":{"field":"e"},"y":{"field":"h","type":"quantitative","scale":{"domain":[0,7.44],"nice":false,"zero":true},"axis":{"title":"Pre-FEV1"}},"y2":{"datum":0},"fill":{"field":"c","type":"nominal","scale":{"domain":[1,2,3,4,5,6,7,8,9,10,11,12,13,14,15,16,17,18,19,20,21,22],"range":["#6aaeff","#2b5c99","#6aaeff","#2b5c99","#6aaeff","#2b5c99","#6aaeff","#2b5c99","#6aaeff","#2b5c99","#6aaeff","#2b5c99","#6aaeff","#2b5c99","#6aaeff","#2b5c99","#6aaeff","#2b5c99","#6aaeff","#2b5c99","#6aaeff","#2b5c99"]},"legend":null}}},
{"data":{"name":"body"},"transform":[{"filter":"datum.p==6"}],"mark":{"type":"rect","opacity":0.5,"x2Offset":0.5},"encoding":{"x":{"field":"s","type":"quantitative","axis":{"title":"Chromosome","values":[123,350,578,761,928,1110,1275,1440,1586,1709,1847,1988,2115,2241,2321,2402,2483,2562,2642,2721,2801,2881],"labelExpr":"'' + (indexof([123,350,578,761,928,1110,1275,1440,1586,1709,1847,1988,2115,2241,2321,2402,2483,2562,2642,2721,2801,2881], datum.value) + 1)"}},"x2":{"field":"e"},"y":{"field":"f","type":"quantitative","axis":{"title":"Pre-FEV1"}},"y2":{"field":"h"},"fill":{"field":"c","type":"nominal","scale":{"domain":[1,2,3,4,5,6,7,8,9,10,11,12,13,14,15,16,17,18,19,20,21,22],"range":["#6aaeff","#2b5c99","#6aaeff","#2b5c99","#6aaeff","#2b5c99","#6aaeff","#2b5c99","#6aaeff","#2b5c99","#6aaeff","#2b5c99","#6aaeff","#2b5c99","#6aaeff","#2b5c99","#6aaeff","#2b5c99","#6aaeff","#2b5c99","#6aaeff","#2b5c99"]},"legend":null}}},
{"data":{"name":"chrom"},"mark":{"type":"rule","color":"#bebebe","strokeWidth":3},"encoding":{"x":{"field":"s","type":"quantitative","axis":{"title":"Chromosome","values":[123,350,578,761,928,1110,1275,1440,1586,1709,1847,1988,2115,2241,2321,2402,2483,2562,2642,2721,2801,2881],"labelExpr":"'' + (indexof([123,350,578,761,928,1110,1275,1440,1586,1709,1847,1988,2115,2241,2321,2402,2483,2562,2642,2721,2801,2881], datum.value) + 1)"}},"x2":{"field":"e"},"y":{"datum":7.3,"type":"quantitative","axis":{"title":"Pre-FEV1"}}}},
{"data":{"name":"chrom"},"mark":{"type":"rule","color":"#bebebe","strokeWidth":3,"strokeDash":[16.5,11.5]},"encoding":{"x":{"field":"s","type":"quantitative","axis":{"title":"Chromosome","values":[123,350,578,761,928,1110,1275,1440,1586,1709,1847,1988,2115,2241,2321,2402,2483,2562,2642,2721,2801,2881],"labelExpr":"'' + (indexof([123,350,578,761,928,1110,1275,1440,1586,1709,1847,1988,2115,2241,2321,2402,2483,2562,2642,2721,2801,2881], datum.value) + 1)"}},"x2":{"field":"e"},"y":{"datum":6.39,"type":"quantitative","axis":{"title":"Pre-FEV1"}}}},
{"data":{"name":"pts"},"transform":[{"filter":"datum.p==6"}],"mark":{"type":"circle","size":24,"opacity":1},"encoding":{"x":{"field":"x","type":"quantitative","axis":{"title":"Chromosome","values":[123,350,578,761,928,1110,1275,1440,1586,1709,1847,1988,2115,2241,2321,2402,2483,2562,2642,2721,2801,2881],"labelExpr":"'' + (indexof([123,350,578,761,928,1110,1275,1440,1586,1709,1847,1988,2115,2241,2321,2402,2483,2562,2642,2721,2801,2881], datum.value) + 1)"}},"y":{"field":"y","type":"quantitative","axis":{"title":"Pre-FEV1"}},"color":{"field":"c","type":"nominal","scale":{"domain":[1,2,3,4,5,6,7,8,9,10,11,12,13,14,15,16,17,18,19,20,21,22],"range":["#6aaeff","#2b5c99","#6aaeff","#2b5c99","#6aaeff","#2b5c99","#6aaeff","#2b5c99","#6aaeff","#2b5c99","#6aaeff","#2b5c99","#6aaeff","#2b5c99","#6aaeff","#2b5c99","#6aaeff","#2b5c99","#6aaeff","#2b5c99","#6aaeff","#2b5c99"]},"legend":null}}}
]}
]}
